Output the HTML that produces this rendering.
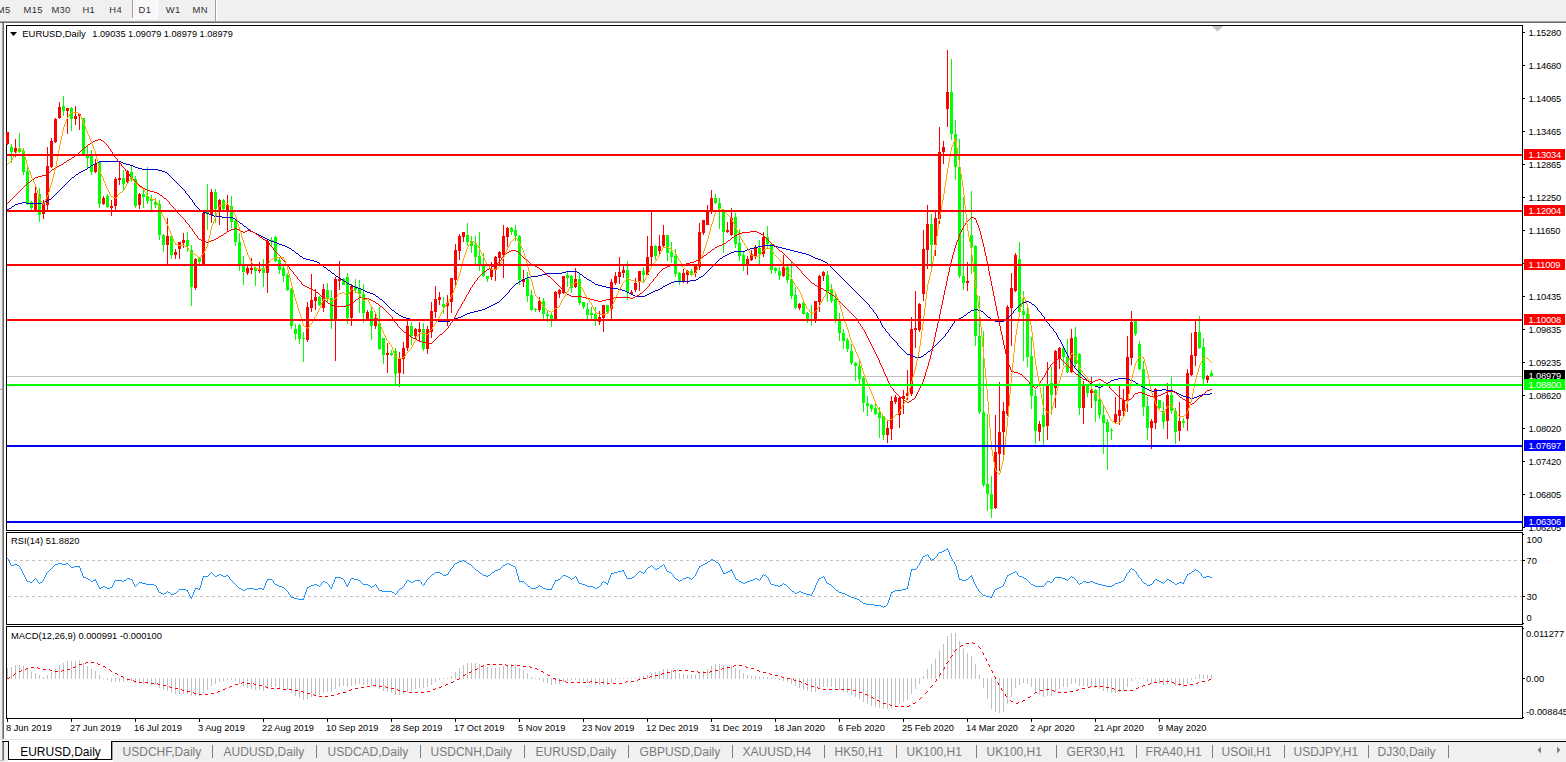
<!DOCTYPE html>
<html><head><meta charset="utf-8"><title>EURUSD,Daily</title>
<style>
html,body{margin:0;padding:0;background:#fff;}
body{width:1566px;height:762px;overflow:hidden;}
svg{display:block;}
svg text{font-family:"Liberation Sans",sans-serif;white-space:pre;}
</style></head><body>
<svg width="1566" height="762" viewBox="0 0 1566 762">
<rect x="0" y="0" width="1566" height="762" fill="#ffffff"/>
<rect x="0" y="0" width="1566" height="21" fill="#f0f0f0" />
<rect x="0" y="21" width="1566" height="1" fill="#a0a0a0" />
<rect x="0" y="22" width="1566" height="1" fill="#696969" />
<rect x="133" y="0" width="24" height="19" fill="#f8f8f8" />
<rect x="132" y="0" width="1" height="19" fill="#a0a0a0" />
<rect x="157" y="0" width="1" height="19" fill="#ffffff" />
<rect x="132" y="18" width="26" height="1" fill="#ffffff" />
<rect x="215" y="0" width="1" height="21" fill="#a0a0a0" />
<rect x="216" y="0" width="1" height="21" fill="#ffffff" />
<text x="-3.2" y="12.8" fill="#303030" font-size="9.4" text-anchor="start" letter-spacing="0.35">M5</text>
<text x="23.6" y="12.8" fill="#303030" font-size="9.4" text-anchor="start" letter-spacing="0.35">M15</text>
<text x="51.4" y="12.8" fill="#303030" font-size="9.4" text-anchor="start" letter-spacing="0.35">M30</text>
<text x="82.4" y="12.8" fill="#303030" font-size="9.4" text-anchor="start" letter-spacing="0.35">H1</text>
<text x="109.3" y="12.8" fill="#303030" font-size="9.4" text-anchor="start" letter-spacing="0.35">H4</text>
<text x="138.6" y="12.8" fill="#303030" font-size="9.4" text-anchor="start" letter-spacing="0.35">D1</text>
<text x="165.8" y="12.8" fill="#303030" font-size="9.4" text-anchor="start" letter-spacing="0.35">W1</text>
<text x="192.6" y="12.8" fill="#303030" font-size="9.4" text-anchor="start" letter-spacing="0.35">MN</text>
<rect x="0" y="23" width="2" height="716" fill="#f0f0f0" />
<rect x="2" y="23" width="1" height="716" fill="#a0a0a0" />
<rect x="3" y="23" width="1" height="716" fill="#696969" />
<rect x="0" y="389" width="2" height="1" fill="#a0a0a0" />
<rect x="0" y="390" width="2" height="1" fill="#fff" />
<rect x="6" y="25" width="1517" height="1" fill="#000" />
<rect x="6" y="530" width="1517" height="1" fill="#000" />
<rect x="6" y="25" width="1" height="506" fill="#000" />
<rect x="1522" y="25" width="1" height="506" fill="#000" />
<rect x="6" y="532" width="1517" height="1" fill="#000" />
<rect x="6" y="624" width="1517" height="1" fill="#000" />
<rect x="6" y="532" width="1" height="93" fill="#000" />
<rect x="1522" y="532" width="1" height="93" fill="#000" />
<rect x="6" y="626" width="1517" height="1" fill="#000" />
<rect x="6" y="718" width="1517" height="1" fill="#000" />
<rect x="6" y="626" width="1" height="93" fill="#000" />
<rect x="1522" y="626" width="1" height="93" fill="#000" />
<g shape-rendering="crispEdges">
<rect x="7" y="376" width="1515" height="1" fill="#c0c0c0" />
<rect x="7" y="132" width="1" height="13" fill="#ff0000" />
<rect x="6" y="132" width="3" height="12" fill="#ff0000" />
<rect x="11" y="144" width="1" height="19" fill="#00ff00" />
<rect x="10" y="147" width="3" height="5" fill="#00ff00" />
<rect x="15" y="139" width="1" height="18" fill="#ff0000" />
<rect x="14" y="148" width="3" height="4" fill="#ff0000" />
<rect x="19" y="133" width="1" height="20" fill="#00ff00" />
<rect x="18" y="148" width="3" height="4" fill="#00ff00" />
<rect x="23" y="148" width="1" height="27" fill="#00ff00" />
<rect x="22" y="151" width="3" height="21" fill="#00ff00" />
<rect x="27" y="167" width="1" height="38" fill="#00ff00" />
<rect x="26" y="171" width="3" height="33" fill="#00ff00" />
<rect x="31" y="201" width="1" height="9" fill="#00ff00" />
<rect x="30" y="202" width="3" height="6" fill="#00ff00" />
<rect x="35" y="187" width="1" height="23" fill="#ff0000" />
<rect x="34" y="193" width="3" height="17" fill="#ff0000" />
<rect x="39" y="188" width="1" height="34" fill="#00ff00" />
<rect x="38" y="194" width="3" height="21" fill="#00ff00" />
<rect x="43" y="200" width="1" height="19" fill="#ff0000" />
<rect x="42" y="202" width="3" height="12" fill="#ff0000" />
<rect x="47" y="147" width="1" height="63" fill="#ff0000" />
<rect x="46" y="166" width="3" height="39" fill="#ff0000" />
<rect x="51" y="138" width="1" height="30" fill="#ff0000" />
<rect x="50" y="141" width="3" height="26" fill="#ff0000" />
<rect x="55" y="118" width="1" height="25" fill="#ff0000" />
<rect x="54" y="119" width="3" height="23" fill="#ff0000" />
<rect x="59" y="102" width="1" height="17" fill="#ff0000" />
<rect x="58" y="107" width="3" height="11" fill="#ff0000" />
<rect x="63" y="96" width="1" height="20" fill="#00ff00" />
<rect x="62" y="106" width="3" height="5" fill="#00ff00" />
<rect x="67" y="108" width="1" height="26" fill="#ff0000" />
<rect x="66" y="108" width="3" height="3" fill="#ff0000" />
<rect x="71" y="107" width="1" height="24" fill="#00ff00" />
<rect x="70" y="108" width="3" height="11" fill="#00ff00" />
<rect x="75" y="106" width="1" height="19" fill="#ff0000" />
<rect x="74" y="116" width="3" height="3" fill="#ff0000" />
<rect x="79" y="113" width="1" height="17" fill="#ff0000" />
<rect x="78" y="114" width="3" height="2" fill="#ff0000" />
<rect x="83" y="118" width="1" height="36" fill="#00ff00" />
<rect x="82" y="118" width="3" height="36" fill="#00ff00" />
<rect x="87" y="146" width="1" height="22" fill="#00ff00" />
<rect x="86" y="154" width="3" height="4" fill="#00ff00" />
<rect x="91" y="150" width="1" height="25" fill="#00ff00" />
<rect x="90" y="154" width="3" height="18" fill="#00ff00" />
<rect x="95" y="159" width="1" height="14" fill="#ff0000" />
<rect x="94" y="164" width="3" height="8" fill="#ff0000" />
<rect x="99" y="162" width="1" height="46" fill="#00ff00" />
<rect x="98" y="162" width="3" height="42" fill="#00ff00" />
<rect x="103" y="196" width="1" height="9" fill="#ff0000" />
<rect x="102" y="198" width="3" height="6" fill="#ff0000" />
<rect x="107" y="194" width="1" height="14" fill="#00ff00" />
<rect x="106" y="196" width="3" height="11" fill="#00ff00" />
<rect x="111" y="200" width="1" height="16" fill="#ff0000" />
<rect x="110" y="206" width="3" height="2" fill="#ff0000" />
<rect x="115" y="177" width="1" height="33" fill="#ff0000" />
<rect x="114" y="179" width="3" height="27" fill="#ff0000" />
<rect x="119" y="162" width="1" height="23" fill="#ff0000" />
<rect x="118" y="178" width="3" height="2" fill="#ff0000" />
<rect x="123" y="170" width="1" height="20" fill="#00ff00" />
<rect x="122" y="178" width="3" height="6" fill="#00ff00" />
<rect x="127" y="170" width="1" height="13" fill="#ff0000" />
<rect x="126" y="171" width="3" height="11" fill="#ff0000" />
<rect x="131" y="166" width="1" height="16" fill="#00ff00" />
<rect x="130" y="172" width="3" height="6" fill="#00ff00" />
<rect x="135" y="176" width="1" height="32" fill="#00ff00" />
<rect x="134" y="179" width="3" height="27" fill="#00ff00" />
<rect x="139" y="193" width="1" height="16" fill="#ff0000" />
<rect x="138" y="194" width="3" height="11" fill="#ff0000" />
<rect x="143" y="190" width="1" height="18" fill="#00ff00" />
<rect x="142" y="194" width="3" height="3" fill="#00ff00" />
<rect x="147" y="167" width="1" height="37" fill="#00ff00" />
<rect x="146" y="196" width="3" height="5" fill="#00ff00" />
<rect x="151" y="195" width="1" height="15" fill="#00ff00" />
<rect x="150" y="199" width="3" height="2" fill="#00ff00" />
<rect x="155" y="198" width="1" height="10" fill="#00ff00" />
<rect x="154" y="202" width="3" height="3" fill="#00ff00" />
<rect x="159" y="200" width="1" height="40" fill="#00ff00" />
<rect x="158" y="204" width="3" height="31" fill="#00ff00" />
<rect x="163" y="234" width="1" height="18" fill="#00ff00" />
<rect x="162" y="235" width="3" height="10" fill="#00ff00" />
<rect x="167" y="218" width="1" height="46" fill="#ff0000" />
<rect x="166" y="236" width="3" height="9" fill="#ff0000" />
<rect x="171" y="236" width="1" height="23" fill="#00ff00" />
<rect x="170" y="236" width="3" height="19" fill="#00ff00" />
<rect x="175" y="249" width="1" height="10" fill="#ff0000" />
<rect x="174" y="252" width="3" height="3" fill="#ff0000" />
<rect x="179" y="242" width="1" height="17" fill="#ff0000" />
<rect x="178" y="242" width="3" height="7" fill="#ff0000" />
<rect x="183" y="233" width="1" height="15" fill="#ff0000" />
<rect x="182" y="240" width="3" height="3" fill="#ff0000" />
<rect x="187" y="232" width="1" height="20" fill="#00ff00" />
<rect x="186" y="240" width="3" height="6" fill="#00ff00" />
<rect x="191" y="245" width="1" height="61" fill="#00ff00" />
<rect x="190" y="250" width="3" height="37" fill="#00ff00" />
<rect x="195" y="258" width="1" height="32" fill="#ff0000" />
<rect x="194" y="259" width="3" height="29" fill="#ff0000" />
<rect x="199" y="257" width="1" height="7" fill="#00ff00" />
<rect x="198" y="258" width="3" height="4" fill="#00ff00" />
<rect x="203" y="212" width="1" height="53" fill="#ff0000" />
<rect x="202" y="213" width="3" height="51" fill="#ff0000" />
<rect x="207" y="184" width="1" height="46" fill="#00ff00" />
<rect x="206" y="212" width="3" height="1" fill="#00ff00" />
<rect x="211" y="189" width="1" height="34" fill="#ff0000" />
<rect x="210" y="192" width="3" height="23" fill="#ff0000" />
<rect x="215" y="189" width="1" height="34" fill="#00ff00" />
<rect x="214" y="192" width="3" height="17" fill="#00ff00" />
<rect x="219" y="199" width="1" height="26" fill="#ff0000" />
<rect x="218" y="200" width="3" height="10" fill="#ff0000" />
<rect x="223" y="199" width="1" height="11" fill="#00ff00" />
<rect x="222" y="200" width="3" height="9" fill="#00ff00" />
<rect x="227" y="195" width="1" height="37" fill="#ff0000" />
<rect x="226" y="205" width="3" height="5" fill="#ff0000" />
<rect x="231" y="196" width="1" height="32" fill="#00ff00" />
<rect x="230" y="206" width="3" height="16" fill="#00ff00" />
<rect x="235" y="220" width="1" height="26" fill="#00ff00" />
<rect x="234" y="221" width="3" height="21" fill="#00ff00" />
<rect x="239" y="233" width="1" height="38" fill="#00ff00" />
<rect x="238" y="242" width="3" height="23" fill="#00ff00" />
<rect x="243" y="256" width="1" height="29" fill="#00ff00" />
<rect x="242" y="264" width="3" height="8" fill="#00ff00" />
<rect x="247" y="265" width="1" height="10" fill="#ff0000" />
<rect x="246" y="268" width="3" height="5" fill="#ff0000" />
<rect x="251" y="258" width="1" height="16" fill="#ff0000" />
<rect x="250" y="268" width="3" height="2" fill="#ff0000" />
<rect x="255" y="267" width="1" height="19" fill="#00ff00" />
<rect x="254" y="268" width="3" height="3" fill="#00ff00" />
<rect x="259" y="262" width="1" height="11" fill="#ff0000" />
<rect x="258" y="269" width="3" height="2" fill="#ff0000" />
<rect x="263" y="259" width="1" height="28" fill="#00ff00" />
<rect x="262" y="268" width="3" height="5" fill="#00ff00" />
<rect x="267" y="240" width="1" height="53" fill="#ff0000" />
<rect x="266" y="241" width="3" height="32" fill="#ff0000" />
<rect x="271" y="237" width="1" height="10" fill="#00ff00" />
<rect x="270" y="240" width="3" height="2" fill="#00ff00" />
<rect x="275" y="236" width="1" height="26" fill="#00ff00" />
<rect x="274" y="237" width="3" height="24" fill="#00ff00" />
<rect x="279" y="257" width="1" height="17" fill="#00ff00" />
<rect x="278" y="260" width="3" height="10" fill="#00ff00" />
<rect x="283" y="266" width="1" height="16" fill="#00ff00" />
<rect x="282" y="268" width="3" height="8" fill="#00ff00" />
<rect x="287" y="273" width="1" height="18" fill="#00ff00" />
<rect x="286" y="275" width="3" height="15" fill="#00ff00" />
<rect x="291" y="288" width="1" height="41" fill="#00ff00" />
<rect x="290" y="289" width="3" height="37" fill="#00ff00" />
<rect x="295" y="324" width="1" height="16" fill="#00ff00" />
<rect x="294" y="329" width="3" height="5" fill="#00ff00" />
<rect x="299" y="324" width="1" height="20" fill="#00ff00" />
<rect x="298" y="325" width="3" height="14" fill="#00ff00" />
<rect x="303" y="332" width="1" height="30" fill="#00ff00" />
<rect x="302" y="338" width="3" height="1" fill="#00ff00" />
<rect x="307" y="302" width="1" height="40" fill="#ff0000" />
<rect x="306" y="307" width="3" height="33" fill="#ff0000" />
<rect x="311" y="274" width="1" height="38" fill="#ff0000" />
<rect x="310" y="300" width="3" height="8" fill="#ff0000" />
<rect x="315" y="289" width="1" height="21" fill="#ff0000" />
<rect x="314" y="297" width="3" height="4" fill="#ff0000" />
<rect x="319" y="296" width="1" height="10" fill="#00ff00" />
<rect x="318" y="297" width="3" height="8" fill="#00ff00" />
<rect x="323" y="284" width="1" height="28" fill="#ff0000" />
<rect x="322" y="289" width="3" height="19" fill="#ff0000" />
<rect x="327" y="283" width="1" height="20" fill="#00ff00" />
<rect x="326" y="290" width="3" height="9" fill="#00ff00" />
<rect x="331" y="290" width="1" height="39" fill="#00ff00" />
<rect x="330" y="298" width="3" height="22" fill="#00ff00" />
<rect x="335" y="277" width="1" height="84" fill="#ff0000" />
<rect x="334" y="279" width="3" height="41" fill="#ff0000" />
<rect x="339" y="261" width="1" height="29" fill="#ff0000" />
<rect x="338" y="279" width="3" height="2" fill="#ff0000" />
<rect x="343" y="278" width="1" height="7" fill="#00ff00" />
<rect x="342" y="279" width="3" height="6" fill="#00ff00" />
<rect x="347" y="273" width="1" height="51" fill="#00ff00" />
<rect x="346" y="277" width="3" height="41" fill="#00ff00" />
<rect x="351" y="284" width="1" height="42" fill="#ff0000" />
<rect x="350" y="286" width="3" height="32" fill="#ff0000" />
<rect x="355" y="279" width="1" height="14" fill="#00ff00" />
<rect x="354" y="286" width="3" height="4" fill="#00ff00" />
<rect x="359" y="280" width="1" height="33" fill="#00ff00" />
<rect x="358" y="288" width="3" height="6" fill="#00ff00" />
<rect x="363" y="284" width="1" height="39" fill="#00ff00" />
<rect x="362" y="294" width="3" height="19" fill="#00ff00" />
<rect x="367" y="310" width="1" height="11" fill="#ff0000" />
<rect x="366" y="312" width="3" height="8" fill="#ff0000" />
<rect x="371" y="307" width="1" height="33" fill="#00ff00" />
<rect x="370" y="311" width="3" height="15" fill="#00ff00" />
<rect x="375" y="312" width="1" height="17" fill="#ff0000" />
<rect x="374" y="318" width="3" height="8" fill="#ff0000" />
<rect x="379" y="307" width="1" height="43" fill="#00ff00" />
<rect x="378" y="323" width="3" height="26" fill="#00ff00" />
<rect x="383" y="338" width="1" height="26" fill="#00ff00" />
<rect x="382" y="338" width="3" height="17" fill="#00ff00" />
<rect x="387" y="343" width="1" height="30" fill="#ff0000" />
<rect x="386" y="353" width="3" height="2" fill="#ff0000" />
<rect x="391" y="350" width="1" height="6" fill="#00ff00" />
<rect x="390" y="353" width="3" height="2" fill="#00ff00" />
<rect x="395" y="348" width="1" height="37" fill="#00ff00" />
<rect x="394" y="351" width="3" height="23" fill="#00ff00" />
<rect x="399" y="352" width="1" height="35" fill="#ff0000" />
<rect x="398" y="358" width="3" height="15" fill="#ff0000" />
<rect x="403" y="342" width="1" height="32" fill="#ff0000" />
<rect x="402" y="348" width="3" height="11" fill="#ff0000" />
<rect x="407" y="320" width="1" height="31" fill="#ff0000" />
<rect x="406" y="326" width="3" height="22" fill="#ff0000" />
<rect x="411" y="322" width="1" height="23" fill="#00ff00" />
<rect x="410" y="326" width="3" height="10" fill="#00ff00" />
<rect x="415" y="328" width="1" height="11" fill="#ff0000" />
<rect x="414" y="329" width="3" height="7" fill="#ff0000" />
<rect x="419" y="322" width="1" height="19" fill="#ff0000" />
<rect x="418" y="329" width="3" height="3" fill="#ff0000" />
<rect x="423" y="323" width="1" height="28" fill="#00ff00" />
<rect x="422" y="329" width="3" height="20" fill="#00ff00" />
<rect x="427" y="326" width="1" height="28" fill="#ff0000" />
<rect x="426" y="329" width="3" height="20" fill="#ff0000" />
<rect x="431" y="302" width="1" height="36" fill="#ff0000" />
<rect x="430" y="311" width="3" height="21" fill="#ff0000" />
<rect x="435" y="286" width="1" height="32" fill="#ff0000" />
<rect x="434" y="299" width="3" height="13" fill="#ff0000" />
<rect x="439" y="292" width="1" height="13" fill="#ff0000" />
<rect x="438" y="297" width="3" height="3" fill="#ff0000" />
<rect x="443" y="297" width="1" height="17" fill="#00ff00" />
<rect x="442" y="304" width="3" height="3" fill="#00ff00" />
<rect x="447" y="295" width="1" height="31" fill="#ff0000" />
<rect x="446" y="303" width="3" height="3" fill="#ff0000" />
<rect x="451" y="278" width="1" height="35" fill="#ff0000" />
<rect x="450" y="278" width="3" height="24" fill="#ff0000" />
<rect x="455" y="244" width="1" height="42" fill="#ff0000" />
<rect x="454" y="250" width="3" height="30" fill="#ff0000" />
<rect x="459" y="234" width="1" height="26" fill="#ff0000" />
<rect x="458" y="236" width="3" height="15" fill="#ff0000" />
<rect x="463" y="232" width="1" height="10" fill="#ff0000" />
<rect x="462" y="232" width="3" height="5" fill="#ff0000" />
<rect x="467" y="223" width="1" height="23" fill="#00ff00" />
<rect x="466" y="235" width="3" height="7" fill="#00ff00" />
<rect x="471" y="236" width="1" height="17" fill="#00ff00" />
<rect x="470" y="241" width="3" height="5" fill="#00ff00" />
<rect x="475" y="236" width="1" height="28" fill="#00ff00" />
<rect x="474" y="245" width="3" height="12" fill="#00ff00" />
<rect x="479" y="232" width="1" height="39" fill="#00ff00" />
<rect x="478" y="256" width="3" height="10" fill="#00ff00" />
<rect x="483" y="253" width="1" height="24" fill="#00ff00" />
<rect x="482" y="266" width="3" height="10" fill="#00ff00" />
<rect x="487" y="276" width="1" height="6" fill="#00ff00" />
<rect x="486" y="276" width="3" height="3" fill="#00ff00" />
<rect x="491" y="262" width="1" height="18" fill="#ff0000" />
<rect x="490" y="269" width="3" height="8" fill="#ff0000" />
<rect x="495" y="256" width="1" height="25" fill="#ff0000" />
<rect x="494" y="257" width="3" height="13" fill="#ff0000" />
<rect x="499" y="251" width="1" height="13" fill="#ff0000" />
<rect x="498" y="252" width="3" height="6" fill="#ff0000" />
<rect x="503" y="225" width="1" height="53" fill="#ff0000" />
<rect x="502" y="236" width="3" height="19" fill="#ff0000" />
<rect x="507" y="227" width="1" height="20" fill="#ff0000" />
<rect x="506" y="228" width="3" height="9" fill="#ff0000" />
<rect x="511" y="227" width="1" height="8" fill="#00ff00" />
<rect x="510" y="228" width="3" height="4" fill="#00ff00" />
<rect x="515" y="225" width="1" height="16" fill="#00ff00" />
<rect x="514" y="230" width="3" height="6" fill="#00ff00" />
<rect x="519" y="235" width="1" height="50" fill="#00ff00" />
<rect x="518" y="236" width="3" height="44" fill="#00ff00" />
<rect x="523" y="270" width="1" height="17" fill="#ff0000" />
<rect x="522" y="279" width="3" height="3" fill="#ff0000" />
<rect x="527" y="272" width="1" height="30" fill="#00ff00" />
<rect x="526" y="279" width="3" height="17" fill="#00ff00" />
<rect x="531" y="290" width="1" height="21" fill="#00ff00" />
<rect x="530" y="295" width="3" height="15" fill="#00ff00" />
<rect x="535" y="308" width="1" height="4" fill="#00ff00" />
<rect x="534" y="309" width="3" height="1" fill="#00ff00" />
<rect x="539" y="297" width="1" height="15" fill="#ff0000" />
<rect x="538" y="301" width="3" height="9" fill="#ff0000" />
<rect x="543" y="298" width="1" height="22" fill="#00ff00" />
<rect x="542" y="301" width="3" height="13" fill="#00ff00" />
<rect x="547" y="310" width="1" height="12" fill="#00ff00" />
<rect x="546" y="314" width="3" height="2" fill="#00ff00" />
<rect x="551" y="312" width="1" height="15" fill="#00ff00" />
<rect x="550" y="315" width="3" height="5" fill="#00ff00" />
<rect x="555" y="291" width="1" height="29" fill="#ff0000" />
<rect x="554" y="292" width="3" height="28" fill="#ff0000" />
<rect x="559" y="289" width="1" height="9" fill="#ff0000" />
<rect x="558" y="290" width="3" height="4" fill="#ff0000" />
<rect x="563" y="276" width="1" height="18" fill="#ff0000" />
<rect x="562" y="276" width="3" height="17" fill="#ff0000" />
<rect x="567" y="272" width="1" height="15" fill="#00ff00" />
<rect x="566" y="275" width="3" height="3" fill="#00ff00" />
<rect x="571" y="275" width="1" height="18" fill="#00ff00" />
<rect x="570" y="276" width="3" height="12" fill="#00ff00" />
<rect x="575" y="268" width="1" height="20" fill="#ff0000" />
<rect x="574" y="279" width="3" height="8" fill="#ff0000" />
<rect x="579" y="274" width="1" height="31" fill="#00ff00" />
<rect x="578" y="279" width="3" height="24" fill="#00ff00" />
<rect x="583" y="302" width="1" height="7" fill="#00ff00" />
<rect x="582" y="302" width="3" height="5" fill="#00ff00" />
<rect x="587" y="303" width="1" height="16" fill="#00ff00" />
<rect x="586" y="309" width="3" height="6" fill="#00ff00" />
<rect x="591" y="307" width="1" height="12" fill="#00ff00" />
<rect x="590" y="313" width="3" height="2" fill="#00ff00" />
<rect x="595" y="307" width="1" height="19" fill="#00ff00" />
<rect x="594" y="314" width="3" height="7" fill="#00ff00" />
<rect x="599" y="311" width="1" height="14" fill="#ff0000" />
<rect x="598" y="317" width="3" height="5" fill="#ff0000" />
<rect x="603" y="305" width="1" height="27" fill="#ff0000" />
<rect x="602" y="305" width="3" height="13" fill="#ff0000" />
<rect x="607" y="305" width="1" height="9" fill="#00ff00" />
<rect x="606" y="305" width="3" height="7" fill="#00ff00" />
<rect x="611" y="279" width="1" height="40" fill="#ff0000" />
<rect x="610" y="282" width="3" height="27" fill="#ff0000" />
<rect x="615" y="272" width="1" height="13" fill="#ff0000" />
<rect x="614" y="276" width="3" height="7" fill="#ff0000" />
<rect x="619" y="257" width="1" height="27" fill="#ff0000" />
<rect x="618" y="272" width="3" height="5" fill="#ff0000" />
<rect x="623" y="266" width="1" height="12" fill="#ff0000" />
<rect x="622" y="270" width="3" height="3" fill="#ff0000" />
<rect x="627" y="261" width="1" height="39" fill="#00ff00" />
<rect x="626" y="270" width="3" height="22" fill="#00ff00" />
<rect x="631" y="290" width="1" height="5" fill="#ff0000" />
<rect x="630" y="292" width="3" height="2" fill="#ff0000" />
<rect x="635" y="278" width="1" height="14" fill="#ff0000" />
<rect x="634" y="283" width="3" height="7" fill="#ff0000" />
<rect x="639" y="271" width="1" height="20" fill="#ff0000" />
<rect x="638" y="271" width="3" height="11" fill="#ff0000" />
<rect x="643" y="267" width="1" height="16" fill="#00ff00" />
<rect x="642" y="271" width="3" height="4" fill="#00ff00" />
<rect x="647" y="236" width="1" height="39" fill="#ff0000" />
<rect x="646" y="257" width="3" height="18" fill="#ff0000" />
<rect x="651" y="212" width="1" height="54" fill="#ff0000" />
<rect x="650" y="246" width="3" height="11" fill="#ff0000" />
<rect x="655" y="245" width="1" height="15" fill="#00ff00" />
<rect x="654" y="246" width="3" height="10" fill="#00ff00" />
<rect x="659" y="235" width="1" height="19" fill="#ff0000" />
<rect x="658" y="246" width="3" height="5" fill="#ff0000" />
<rect x="663" y="225" width="1" height="23" fill="#ff0000" />
<rect x="662" y="235" width="3" height="11" fill="#ff0000" />
<rect x="667" y="235" width="1" height="26" fill="#00ff00" />
<rect x="666" y="235" width="3" height="18" fill="#00ff00" />
<rect x="671" y="242" width="1" height="21" fill="#00ff00" />
<rect x="670" y="252" width="3" height="5" fill="#00ff00" />
<rect x="675" y="249" width="1" height="28" fill="#00ff00" />
<rect x="674" y="256" width="3" height="18" fill="#00ff00" />
<rect x="679" y="272" width="1" height="13" fill="#00ff00" />
<rect x="678" y="273" width="3" height="9" fill="#00ff00" />
<rect x="683" y="269" width="1" height="14" fill="#ff0000" />
<rect x="682" y="273" width="3" height="8" fill="#ff0000" />
<rect x="687" y="270" width="1" height="14" fill="#ff0000" />
<rect x="686" y="271" width="3" height="4" fill="#ff0000" />
<rect x="691" y="269" width="1" height="7" fill="#00ff00" />
<rect x="690" y="271" width="3" height="4" fill="#00ff00" />
<rect x="695" y="265" width="1" height="12" fill="#ff0000" />
<rect x="694" y="265" width="3" height="8" fill="#ff0000" />
<rect x="699" y="223" width="1" height="47" fill="#ff0000" />
<rect x="698" y="232" width="3" height="35" fill="#ff0000" />
<rect x="703" y="220" width="1" height="15" fill="#ff0000" />
<rect x="702" y="220" width="3" height="13" fill="#ff0000" />
<rect x="707" y="205" width="1" height="20" fill="#ff0000" />
<rect x="706" y="212" width="3" height="13" fill="#ff0000" />
<rect x="711" y="190" width="1" height="24" fill="#ff0000" />
<rect x="710" y="198" width="3" height="13" fill="#ff0000" />
<rect x="715" y="194" width="1" height="10" fill="#00ff00" />
<rect x="714" y="198" width="3" height="5" fill="#00ff00" />
<rect x="719" y="198" width="1" height="31" fill="#00ff00" />
<rect x="718" y="203" width="3" height="6" fill="#00ff00" />
<rect x="723" y="209" width="1" height="44" fill="#00ff00" />
<rect x="722" y="212" width="3" height="20" fill="#00ff00" />
<rect x="727" y="222" width="1" height="11" fill="#ff0000" />
<rect x="726" y="230" width="3" height="2" fill="#ff0000" />
<rect x="731" y="208" width="1" height="28" fill="#ff0000" />
<rect x="730" y="218" width="3" height="17" fill="#ff0000" />
<rect x="735" y="213" width="1" height="35" fill="#00ff00" />
<rect x="734" y="217" width="3" height="27" fill="#00ff00" />
<rect x="739" y="229" width="1" height="32" fill="#00ff00" />
<rect x="738" y="243" width="3" height="13" fill="#00ff00" />
<rect x="743" y="252" width="1" height="19" fill="#00ff00" />
<rect x="742" y="255" width="3" height="9" fill="#00ff00" />
<rect x="747" y="256" width="1" height="19" fill="#ff0000" />
<rect x="746" y="259" width="3" height="6" fill="#ff0000" />
<rect x="751" y="250" width="1" height="11" fill="#ff0000" />
<rect x="750" y="254" width="3" height="6" fill="#ff0000" />
<rect x="755" y="245" width="1" height="14" fill="#ff0000" />
<rect x="754" y="248" width="3" height="9" fill="#ff0000" />
<rect x="759" y="240" width="1" height="24" fill="#00ff00" />
<rect x="758" y="248" width="3" height="6" fill="#00ff00" />
<rect x="763" y="232" width="1" height="25" fill="#ff0000" />
<rect x="762" y="237" width="3" height="17" fill="#ff0000" />
<rect x="767" y="226" width="1" height="23" fill="#00ff00" />
<rect x="766" y="237" width="3" height="7" fill="#00ff00" />
<rect x="771" y="244" width="1" height="30" fill="#00ff00" />
<rect x="770" y="244" width="3" height="26" fill="#00ff00" />
<rect x="775" y="267" width="1" height="6" fill="#00ff00" />
<rect x="774" y="268" width="3" height="3" fill="#00ff00" />
<rect x="779" y="267" width="1" height="13" fill="#00ff00" />
<rect x="778" y="271" width="3" height="5" fill="#00ff00" />
<rect x="783" y="255" width="1" height="22" fill="#ff0000" />
<rect x="782" y="267" width="3" height="9" fill="#ff0000" />
<rect x="787" y="266" width="1" height="17" fill="#00ff00" />
<rect x="786" y="267" width="3" height="13" fill="#00ff00" />
<rect x="791" y="262" width="1" height="37" fill="#00ff00" />
<rect x="790" y="279" width="3" height="17" fill="#00ff00" />
<rect x="795" y="287" width="1" height="22" fill="#00ff00" />
<rect x="794" y="295" width="3" height="13" fill="#00ff00" />
<rect x="799" y="303" width="1" height="7" fill="#ff0000" />
<rect x="798" y="304" width="3" height="4" fill="#ff0000" />
<rect x="803" y="302" width="1" height="13" fill="#00ff00" />
<rect x="802" y="303" width="3" height="11" fill="#00ff00" />
<rect x="807" y="312" width="1" height="11" fill="#00ff00" />
<rect x="806" y="313" width="3" height="6" fill="#00ff00" />
<rect x="811" y="305" width="1" height="21" fill="#00ff00" />
<rect x="810" y="319" width="3" height="2" fill="#00ff00" />
<rect x="815" y="301" width="1" height="22" fill="#ff0000" />
<rect x="814" y="301" width="3" height="19" fill="#ff0000" />
<rect x="819" y="275" width="1" height="37" fill="#ff0000" />
<rect x="818" y="276" width="3" height="26" fill="#ff0000" />
<rect x="823" y="271" width="1" height="10" fill="#ff0000" />
<rect x="822" y="272" width="3" height="4" fill="#ff0000" />
<rect x="827" y="271" width="1" height="31" fill="#00ff00" />
<rect x="826" y="275" width="3" height="18" fill="#00ff00" />
<rect x="831" y="284" width="1" height="19" fill="#00ff00" />
<rect x="830" y="289" width="3" height="12" fill="#00ff00" />
<rect x="835" y="294" width="1" height="29" fill="#00ff00" />
<rect x="834" y="299" width="3" height="21" fill="#00ff00" />
<rect x="839" y="313" width="1" height="28" fill="#00ff00" />
<rect x="838" y="320" width="3" height="13" fill="#00ff00" />
<rect x="843" y="329" width="1" height="20" fill="#00ff00" />
<rect x="842" y="333" width="3" height="8" fill="#00ff00" />
<rect x="847" y="338" width="1" height="14" fill="#00ff00" />
<rect x="846" y="340" width="3" height="9" fill="#00ff00" />
<rect x="851" y="344" width="1" height="21" fill="#00ff00" />
<rect x="850" y="351" width="3" height="12" fill="#00ff00" />
<rect x="855" y="362" width="1" height="19" fill="#00ff00" />
<rect x="854" y="363" width="3" height="3" fill="#00ff00" />
<rect x="859" y="361" width="1" height="23" fill="#00ff00" />
<rect x="858" y="366" width="3" height="13" fill="#00ff00" />
<rect x="863" y="376" width="1" height="36" fill="#00ff00" />
<rect x="862" y="378" width="3" height="25" fill="#00ff00" />
<rect x="867" y="396" width="1" height="20" fill="#00ff00" />
<rect x="866" y="403" width="3" height="3" fill="#00ff00" />
<rect x="871" y="404" width="1" height="8" fill="#00ff00" />
<rect x="870" y="405" width="3" height="4" fill="#00ff00" />
<rect x="875" y="402" width="1" height="13" fill="#00ff00" />
<rect x="874" y="408" width="3" height="6" fill="#00ff00" />
<rect x="879" y="407" width="1" height="31" fill="#00ff00" />
<rect x="878" y="413" width="3" height="5" fill="#00ff00" />
<rect x="883" y="416" width="1" height="24" fill="#00ff00" />
<rect x="882" y="416" width="3" height="19" fill="#00ff00" />
<rect x="887" y="420" width="1" height="23" fill="#ff0000" />
<rect x="886" y="428" width="3" height="7" fill="#ff0000" />
<rect x="891" y="396" width="1" height="44" fill="#ff0000" />
<rect x="890" y="401" width="3" height="28" fill="#ff0000" />
<rect x="895" y="395" width="1" height="9" fill="#ff0000" />
<rect x="894" y="397" width="3" height="5" fill="#ff0000" />
<rect x="899" y="396" width="1" height="32" fill="#ff0000" />
<rect x="898" y="398" width="3" height="17" fill="#ff0000" />
<rect x="903" y="390" width="1" height="24" fill="#ff0000" />
<rect x="902" y="396" width="3" height="3" fill="#ff0000" />
<rect x="907" y="370" width="1" height="30" fill="#ff0000" />
<rect x="906" y="393" width="3" height="3" fill="#ff0000" />
<rect x="911" y="317" width="1" height="79" fill="#ff0000" />
<rect x="910" y="329" width="3" height="65" fill="#ff0000" />
<rect x="915" y="291" width="1" height="57" fill="#ff0000" />
<rect x="914" y="328" width="3" height="2" fill="#ff0000" />
<rect x="919" y="303" width="1" height="29" fill="#ff0000" />
<rect x="918" y="304" width="3" height="26" fill="#ff0000" />
<rect x="923" y="230" width="1" height="71" fill="#ff0000" />
<rect x="922" y="249" width="3" height="45" fill="#ff0000" />
<rect x="927" y="205" width="1" height="64" fill="#ff0000" />
<rect x="926" y="224" width="3" height="26" fill="#ff0000" />
<rect x="931" y="214" width="1" height="53" fill="#00ff00" />
<rect x="930" y="224" width="3" height="21" fill="#00ff00" />
<rect x="935" y="211" width="1" height="45" fill="#ff0000" />
<rect x="934" y="218" width="3" height="27" fill="#ff0000" />
<rect x="939" y="127" width="1" height="97" fill="#ff0000" />
<rect x="938" y="152" width="3" height="67" fill="#ff0000" />
<rect x="943" y="141" width="1" height="23" fill="#ff0000" />
<rect x="942" y="147" width="3" height="5" fill="#ff0000" />
<rect x="947" y="50" width="1" height="77" fill="#ff0000" />
<rect x="946" y="92" width="3" height="17" fill="#ff0000" />
<rect x="951" y="59" width="1" height="81" fill="#00ff00" />
<rect x="950" y="92" width="3" height="42" fill="#00ff00" />
<rect x="955" y="120" width="1" height="60" fill="#00ff00" />
<rect x="954" y="134" width="3" height="33" fill="#00ff00" />
<rect x="959" y="139" width="1" height="139" fill="#00ff00" />
<rect x="958" y="167" width="3" height="109" fill="#00ff00" />
<rect x="963" y="197" width="1" height="93" fill="#00ff00" />
<rect x="962" y="276" width="3" height="7" fill="#00ff00" />
<rect x="967" y="262" width="1" height="29" fill="#ff0000" />
<rect x="966" y="281" width="3" height="2" fill="#ff0000" />
<rect x="971" y="191" width="1" height="83" fill="#00ff00" />
<rect x="970" y="235" width="3" height="12" fill="#00ff00" />
<rect x="975" y="245" width="1" height="101" fill="#00ff00" />
<rect x="974" y="246" width="3" height="90" fill="#00ff00" />
<rect x="979" y="296" width="1" height="118" fill="#00ff00" />
<rect x="978" y="336" width="3" height="76" fill="#00ff00" />
<rect x="983" y="331" width="1" height="156" fill="#00ff00" />
<rect x="982" y="412" width="3" height="73" fill="#00ff00" />
<rect x="987" y="414" width="1" height="97" fill="#00ff00" />
<rect x="986" y="484" width="3" height="10" fill="#00ff00" />
<rect x="991" y="476" width="1" height="42" fill="#00ff00" />
<rect x="990" y="494" width="3" height="15" fill="#00ff00" />
<rect x="995" y="415" width="1" height="94" fill="#ff0000" />
<rect x="994" y="452" width="3" height="56" fill="#ff0000" />
<rect x="999" y="382" width="1" height="89" fill="#ff0000" />
<rect x="998" y="432" width="3" height="22" fill="#ff0000" />
<rect x="1003" y="402" width="1" height="54" fill="#ff0000" />
<rect x="1002" y="411" width="3" height="21" fill="#ff0000" />
<rect x="1007" y="305" width="1" height="111" fill="#ff0000" />
<rect x="1006" y="307" width="3" height="107" fill="#ff0000" />
<rect x="1011" y="273" width="1" height="73" fill="#ff0000" />
<rect x="1010" y="288" width="3" height="20" fill="#ff0000" />
<rect x="1015" y="253" width="1" height="39" fill="#ff0000" />
<rect x="1014" y="255" width="3" height="36" fill="#ff0000" />
<rect x="1019" y="242" width="1" height="72" fill="#00ff00" />
<rect x="1018" y="259" width="3" height="53" fill="#00ff00" />
<rect x="1023" y="291" width="1" height="70" fill="#00ff00" />
<rect x="1022" y="311" width="3" height="4" fill="#00ff00" />
<rect x="1027" y="305" width="1" height="62" fill="#00ff00" />
<rect x="1026" y="314" width="3" height="43" fill="#00ff00" />
<rect x="1031" y="337" width="1" height="72" fill="#00ff00" />
<rect x="1030" y="356" width="3" height="40" fill="#00ff00" />
<rect x="1035" y="390" width="1" height="54" fill="#00ff00" />
<rect x="1034" y="396" width="3" height="35" fill="#00ff00" />
<rect x="1039" y="421" width="1" height="20" fill="#ff0000" />
<rect x="1038" y="424" width="3" height="8" fill="#ff0000" />
<rect x="1043" y="386" width="1" height="61" fill="#00ff00" />
<rect x="1042" y="415" width="3" height="12" fill="#00ff00" />
<rect x="1047" y="362" width="1" height="78" fill="#ff0000" />
<rect x="1046" y="385" width="3" height="41" fill="#ff0000" />
<rect x="1051" y="367" width="1" height="48" fill="#00ff00" />
<rect x="1050" y="383" width="3" height="12" fill="#00ff00" />
<rect x="1055" y="350" width="1" height="58" fill="#ff0000" />
<rect x="1054" y="351" width="3" height="37" fill="#ff0000" />
<rect x="1059" y="347" width="1" height="22" fill="#ff0000" />
<rect x="1058" y="348" width="3" height="11" fill="#ff0000" />
<rect x="1063" y="346" width="1" height="20" fill="#00ff00" />
<rect x="1062" y="348" width="3" height="9" fill="#00ff00" />
<rect x="1067" y="339" width="1" height="34" fill="#00ff00" />
<rect x="1066" y="357" width="3" height="15" fill="#00ff00" />
<rect x="1071" y="329" width="1" height="44" fill="#ff0000" />
<rect x="1070" y="338" width="3" height="34" fill="#ff0000" />
<rect x="1075" y="327" width="1" height="40" fill="#00ff00" />
<rect x="1074" y="337" width="3" height="27" fill="#00ff00" />
<rect x="1079" y="353" width="1" height="62" fill="#00ff00" />
<rect x="1078" y="354" width="3" height="54" fill="#00ff00" />
<rect x="1083" y="381" width="1" height="43" fill="#ff0000" />
<rect x="1082" y="385" width="3" height="23" fill="#ff0000" />
<rect x="1087" y="385" width="1" height="12" fill="#00ff00" />
<rect x="1086" y="386" width="3" height="7" fill="#00ff00" />
<rect x="1091" y="377" width="1" height="31" fill="#ff0000" />
<rect x="1090" y="390" width="3" height="3" fill="#ff0000" />
<rect x="1095" y="389" width="1" height="33" fill="#00ff00" />
<rect x="1094" y="390" width="3" height="11" fill="#00ff00" />
<rect x="1099" y="383" width="1" height="36" fill="#00ff00" />
<rect x="1098" y="400" width="3" height="15" fill="#00ff00" />
<rect x="1103" y="405" width="1" height="49" fill="#00ff00" />
<rect x="1102" y="415" width="3" height="8" fill="#00ff00" />
<rect x="1107" y="419" width="1" height="51" fill="#00ff00" />
<rect x="1106" y="422" width="3" height="10" fill="#00ff00" />
<rect x="1111" y="428" width="1" height="12" fill="#00ff00" />
<rect x="1110" y="430" width="3" height="1" fill="#00ff00" />
<rect x="1115" y="397" width="1" height="26" fill="#ff0000" />
<rect x="1114" y="414" width="3" height="8" fill="#ff0000" />
<rect x="1119" y="386" width="1" height="39" fill="#ff0000" />
<rect x="1118" y="410" width="3" height="6" fill="#ff0000" />
<rect x="1123" y="389" width="1" height="29" fill="#ff0000" />
<rect x="1122" y="400" width="3" height="11" fill="#ff0000" />
<rect x="1127" y="336" width="1" height="76" fill="#ff0000" />
<rect x="1126" y="357" width="3" height="44" fill="#ff0000" />
<rect x="1131" y="311" width="1" height="54" fill="#ff0000" />
<rect x="1130" y="322" width="3" height="36" fill="#ff0000" />
<rect x="1135" y="321" width="1" height="15" fill="#00ff00" />
<rect x="1134" y="321" width="3" height="13" fill="#00ff00" />
<rect x="1139" y="341" width="1" height="29" fill="#00ff00" />
<rect x="1138" y="344" width="3" height="25" fill="#00ff00" />
<rect x="1143" y="361" width="1" height="55" fill="#00ff00" />
<rect x="1142" y="369" width="3" height="38" fill="#00ff00" />
<rect x="1147" y="397" width="1" height="43" fill="#00ff00" />
<rect x="1146" y="406" width="3" height="22" fill="#00ff00" />
<rect x="1151" y="419" width="1" height="30" fill="#ff0000" />
<rect x="1150" y="421" width="3" height="7" fill="#ff0000" />
<rect x="1155" y="388" width="1" height="41" fill="#ff0000" />
<rect x="1154" y="389" width="3" height="34" fill="#ff0000" />
<rect x="1159" y="400" width="1" height="9" fill="#00ff00" />
<rect x="1158" y="400" width="3" height="8" fill="#00ff00" />
<rect x="1163" y="402" width="1" height="27" fill="#00ff00" />
<rect x="1162" y="411" width="3" height="11" fill="#00ff00" />
<rect x="1167" y="383" width="1" height="56" fill="#ff0000" />
<rect x="1166" y="395" width="3" height="26" fill="#ff0000" />
<rect x="1171" y="377" width="1" height="37" fill="#00ff00" />
<rect x="1170" y="395" width="3" height="16" fill="#00ff00" />
<rect x="1175" y="408" width="1" height="36" fill="#00ff00" />
<rect x="1174" y="411" width="3" height="21" fill="#00ff00" />
<rect x="1179" y="402" width="1" height="39" fill="#ff0000" />
<rect x="1178" y="421" width="3" height="10" fill="#ff0000" />
<rect x="1183" y="418" width="1" height="10" fill="#00ff00" />
<rect x="1182" y="421" width="3" height="2" fill="#00ff00" />
<rect x="1187" y="369" width="1" height="62" fill="#ff0000" />
<rect x="1186" y="373" width="3" height="46" fill="#ff0000" />
<rect x="1191" y="333" width="1" height="43" fill="#ff0000" />
<rect x="1190" y="355" width="3" height="20" fill="#ff0000" />
<rect x="1195" y="321" width="1" height="45" fill="#ff0000" />
<rect x="1194" y="332" width="3" height="24" fill="#ff0000" />
<rect x="1199" y="316" width="1" height="33" fill="#00ff00" />
<rect x="1198" y="332" width="3" height="16" fill="#00ff00" />
<rect x="1203" y="338" width="1" height="47" fill="#00ff00" />
<rect x="1202" y="347" width="3" height="32" fill="#00ff00" />
<rect x="1207" y="375" width="1" height="8" fill="#ff0000" />
<rect x="1206" y="376" width="3" height="4" fill="#ff0000" />
<rect x="1211" y="370" width="1" height="7" fill="#00ff00" />
<rect x="1210" y="373" width="3" height="3" fill="#00ff00" />
</g>
<path d="M185.5,191v2M189.5,196v2M192.5,200v2M194.5,203v2M509.5,290v2M869.5,305v2M873.5,310v2M876.5,314v2M877.5,316v2M878.5,318v2M880.5,321v2M881.5,323v2M882.5,325v2M885.5,329v2M889.5,334v2M897.5,343v2M945.5,334v2M948.5,330v2M950.5,327v2M952.5,324v2M954.5,321v2M1013.5,311v2M1037.5,308v2M1041.5,313v2M1044.5,317v2M1046.5,320v2M1049.5,324v2M1053.5,329v2M1056.5,333v2M1057.5,335v2M1058.5,337v2M1060.5,340v2M1061.5,342v2M1062.5,344v2M1063.5,346v2M1064.5,348v2M1065.5,350v2M1066.5,352v2M1067.5,354v2M1068.5,356v2M1069.5,358v2M1070.5,360v2M1072.5,363v2M1074.5,366v2M99,161.5h22M97,162.5h2M121,162.5h2M95,163.5h2M123,163.5h3M93,164.5h2M126,164.5h4M91,165.5h2M130,165.5h3M90,166.5h1M133,166.5h2M88,167.5h2M135,167.5h3M87,168.5h1M138,168.5h4M85,169.5h2M142,169.5h16M83,170.5h2M158,170.5h4M81,171.5h2M162,171.5h3M79,172.5h2M165,172.5h2M78,173.5h1M167,173.5h1M76,174.5h2M168,174.5h1M75,175.5h1M169,175.5h1M74,176.5h1M170,176.5h1M72,177.5h2M171,177.5h1M71,178.5h1M172,178.5h1M70,179.5h1M173,179.5h1M69,180.5h1M174,180.5h1M68,181.5h1M175,181.5h1M67,182.5h1M176,182.5h1M66,183.5h1M177,183.5h1M65,184.5h1M178,184.5h1M64,185.5h1M179,185.5h1M63,186.5h1M180,186.5h1M62,187.5h1M181,187.5h1M61,188.5h1M182,188.5h1M60,189.5h1M183,189.5h1M59,190.5h1M184,190.5h1M58,191.5h1M57,192.5h1M56,193.5h1M186,193.5h1M55,194.5h1M187,194.5h1M54,195.5h1M188,195.5h1M53,196.5h1M52,197.5h1M51,198.5h1M190,198.5h1M49,199.5h2M191,199.5h1M47,200.5h2M45,201.5h2M22,202.5h4M42,202.5h3M193,202.5h1M18,203.5h4M26,203.5h16M15,204.5h3M14,205.5h1M195,205.5h1M12,206.5h2M196,206.5h1M11,207.5h1M197,207.5h1M9,208.5h2M198,208.5h1M7,209.5h2M199,209.5h1M200,210.5h2M202,211.5h1M203,212.5h3M206,213.5h3M209,214.5h2M211,215.5h3M214,216.5h8M222,217.5h11M233,218.5h2M235,219.5h1M236,220.5h2M238,221.5h1M239,222.5h1M240,223.5h2M242,224.5h1M243,225.5h1M244,226.5h2M246,227.5h1M247,228.5h1M248,229.5h2M250,230.5h1M251,231.5h2M253,232.5h2M255,233.5h2M257,234.5h2M259,235.5h2M261,236.5h2M263,237.5h2M265,238.5h2M267,239.5h2M269,240.5h2M271,241.5h3M274,242.5h3M277,243.5h2M279,244.5h3M282,245.5h3M762,245.5h12M285,246.5h2M758,246.5h4M774,246.5h4M287,247.5h2M754,247.5h4M778,247.5h4M289,248.5h2M750,248.5h4M782,248.5h4M291,249.5h1M747,249.5h3M786,249.5h4M292,250.5h2M745,250.5h2M790,250.5h4M294,251.5h1M734,251.5h11M794,251.5h4M295,252.5h1M731,252.5h3M798,252.5h4M296,253.5h2M729,253.5h2M802,253.5h4M298,254.5h1M727,254.5h2M806,254.5h3M299,255.5h1M725,255.5h2M809,255.5h2M300,256.5h2M723,256.5h2M811,256.5h2M302,257.5h1M722,257.5h1M813,257.5h2M303,258.5h3M720,258.5h2M815,258.5h3M306,259.5h4M719,259.5h1M818,259.5h3M310,260.5h4M718,260.5h1M821,260.5h2M314,261.5h3M717,261.5h1M823,261.5h2M317,262.5h2M716,262.5h1M825,262.5h2M319,263.5h1M715,263.5h1M827,263.5h1M320,264.5h2M714,264.5h1M828,264.5h1M322,265.5h1M713,265.5h1M829,265.5h1M323,266.5h1M712,266.5h1M830,266.5h1M324,267.5h2M711,267.5h1M831,267.5h1M326,268.5h1M710,268.5h1M832,268.5h1M327,269.5h1M709,269.5h1M833,269.5h1M328,270.5h2M708,270.5h1M834,270.5h1M330,271.5h1M566,271.5h11M707,271.5h1M835,271.5h1M331,272.5h1M562,272.5h4M577,272.5h2M706,272.5h1M836,272.5h1M332,273.5h2M546,273.5h16M579,273.5h1M705,273.5h1M837,273.5h1M334,274.5h1M542,274.5h4M580,274.5h2M704,274.5h1M838,274.5h1M335,275.5h1M538,275.5h4M582,275.5h1M703,275.5h1M839,275.5h1M336,276.5h2M530,276.5h8M583,276.5h1M701,276.5h2M840,276.5h1M338,277.5h1M527,277.5h3M584,277.5h2M699,277.5h2M841,277.5h1M339,278.5h2M525,278.5h2M586,278.5h1M698,278.5h1M842,278.5h1M341,279.5h2M523,279.5h2M587,279.5h2M696,279.5h2M843,279.5h1M343,280.5h1M521,280.5h2M589,280.5h2M690,280.5h6M844,280.5h1M344,281.5h2M519,281.5h2M591,281.5h1M674,281.5h16M845,281.5h1M346,282.5h1M518,282.5h1M592,282.5h2M671,282.5h3M846,282.5h1M347,283.5h2M516,283.5h2M594,283.5h1M669,283.5h2M847,283.5h1M349,284.5h2M515,284.5h1M595,284.5h3M667,284.5h2M848,284.5h1M351,285.5h2M514,285.5h1M598,285.5h4M665,285.5h2M849,285.5h1M353,286.5h2M513,286.5h1M602,286.5h4M663,286.5h2M850,286.5h1M355,287.5h3M512,287.5h1M606,287.5h4M662,287.5h1M851,287.5h1M358,288.5h3M511,288.5h1M610,288.5h8M660,288.5h2M852,288.5h1M361,289.5h2M510,289.5h1M618,289.5h4M658,289.5h2M853,289.5h1M363,290.5h2M622,290.5h3M655,290.5h3M854,290.5h1M365,291.5h2M625,291.5h2M653,291.5h2M855,291.5h1M367,292.5h3M508,292.5h1M627,292.5h2M651,292.5h2M856,292.5h1M370,293.5h3M507,293.5h1M629,293.5h2M649,293.5h2M857,293.5h1M373,294.5h2M506,294.5h1M631,294.5h2M647,294.5h2M858,294.5h1M375,295.5h1M505,295.5h1M633,295.5h2M645,295.5h2M859,295.5h1M376,296.5h2M504,296.5h1M635,296.5h10M860,296.5h1M378,297.5h1M503,297.5h1M861,297.5h1M379,298.5h1M502,298.5h1M862,298.5h1M380,299.5h2M501,299.5h1M863,299.5h1M382,300.5h1M500,300.5h1M864,300.5h1M383,301.5h1M499,301.5h1M865,301.5h1M1026,301.5h3M384,302.5h1M497,302.5h2M866,302.5h1M1023,302.5h3M1029,302.5h2M385,303.5h1M495,303.5h2M867,303.5h1M1022,303.5h1M1031,303.5h1M386,304.5h1M493,304.5h2M868,304.5h1M1020,304.5h2M1032,304.5h2M387,305.5h1M491,305.5h2M1019,305.5h1M1034,305.5h1M388,306.5h1M489,306.5h2M1018,306.5h1M1035,306.5h1M389,307.5h1M487,307.5h2M870,307.5h1M1017,307.5h1M1036,307.5h1M390,308.5h1M485,308.5h2M871,308.5h1M1016,308.5h1M391,309.5h1M482,309.5h3M872,309.5h1M974,309.5h4M1015,309.5h1M392,310.5h2M478,310.5h4M971,310.5h3M978,310.5h3M1014,310.5h1M1038,310.5h1M394,311.5h1M474,311.5h4M970,311.5h1M981,311.5h2M1039,311.5h1M395,312.5h1M470,312.5h4M874,312.5h1M968,312.5h2M983,312.5h1M1040,312.5h1M396,313.5h2M467,313.5h3M875,313.5h1M967,313.5h1M984,313.5h1M1012,313.5h1M398,314.5h1M465,314.5h2M966,314.5h1M985,314.5h1M1011,314.5h1M399,315.5h2M463,315.5h2M964,315.5h2M986,315.5h1M1010,315.5h1M1042,315.5h1M401,316.5h2M461,316.5h2M963,316.5h1M987,316.5h1M1009,316.5h1M1043,316.5h1M403,317.5h3M458,317.5h3M961,317.5h2M988,317.5h2M1008,317.5h1M406,318.5h4M455,318.5h3M959,318.5h2M990,318.5h1M1007,318.5h1M410,319.5h12M453,319.5h2M957,319.5h2M991,319.5h2M1006,319.5h1M1045,319.5h1M422,320.5h16M450,320.5h3M879,320.5h1M955,320.5h2M993,320.5h2M1004,320.5h2M438,321.5h12M995,321.5h9M1047,322.5h1M953,323.5h1M1048,323.5h1M951,326.5h1M1050,326.5h1M883,327.5h1M1051,327.5h1M884,328.5h1M1052,328.5h1M949,329.5h1M886,331.5h1M1054,331.5h1M887,332.5h1M947,332.5h1M1055,332.5h1M888,333.5h1M946,333.5h1M890,336.5h1M944,336.5h1M891,337.5h1M943,337.5h1M892,338.5h1M942,338.5h1M893,339.5h1M941,339.5h1M1059,339.5h1M894,340.5h1M940,340.5h1M895,341.5h1M939,341.5h1M896,342.5h1M938,342.5h1M937,343.5h1M936,344.5h1M898,345.5h1M935,345.5h1M899,346.5h1M934,346.5h1M900,347.5h1M933,347.5h1M901,348.5h1M932,348.5h1M902,349.5h1M931,349.5h1M903,350.5h1M930,350.5h1M904,351.5h1M928,351.5h2M905,352.5h1M927,352.5h1M906,353.5h1M926,353.5h1M907,354.5h3M924,354.5h2M910,355.5h3M923,355.5h1M913,356.5h2M921,356.5h2M915,357.5h6M1071,362.5h1M1073,365.5h1M1075,368.5h1M1076,369.5h1M1077,370.5h1M1078,371.5h1M1079,372.5h1M1080,373.5h1M1081,374.5h1M1082,375.5h1M1083,376.5h1M1084,377.5h1M1085,378.5h1M1118,378.5h8M1086,379.5h1M1114,379.5h4M1126,379.5h4M1087,380.5h1M1111,380.5h3M1130,380.5h3M1088,381.5h1M1110,381.5h1M1133,381.5h2M1089,382.5h1M1108,382.5h2M1135,382.5h1M1090,383.5h1M1107,383.5h1M1136,383.5h2M1091,384.5h2M1105,384.5h2M1138,384.5h1M1093,385.5h2M1103,385.5h2M1139,385.5h2M1095,386.5h3M1101,386.5h2M1141,386.5h2M1098,387.5h3M1143,387.5h2M1145,388.5h2M1147,389.5h2M1162,389.5h4M1149,390.5h2M1154,390.5h8M1166,390.5h7M1151,391.5h3M1173,391.5h2M1175,392.5h2M1177,393.5h2M1210,393.5h2M1179,394.5h2M1202,394.5h8M1181,395.5h2M1199,395.5h3M1183,396.5h3M1197,396.5h2M1186,397.5h4M1194,397.5h3M1190,398.5h4" fill="none" stroke="#0000cd" stroke-width="1" shape-rendering="crispEdges"/>
<path d="M108.5,146v2M110.5,149v2M112.5,152v2M114.5,155v2M117.5,159v2M121.5,164v2M125.5,169v2M129.5,174v2M169.5,202v2M177.5,211v2M185.5,220v2M189.5,225v2M192.5,229v2M194.5,232v2M197.5,236v2M269.5,243v2M273.5,248v2M281.5,257v2M285.5,262v2M289.5,267v2M293.5,272v2M297.5,277v2M301.5,282v2M392.5,317v2M394.5,320v2M397.5,324v2M448.5,326v2M450.5,323v2M452.5,320v2M454.5,317v2M455.5,315v2M456.5,313v2M457.5,311v2M458.5,309v2M460.5,306v2M461.5,304v2M462.5,302v2M464.5,299v2M465.5,297v2M466.5,295v2M468.5,292v2M469.5,290v2M470.5,288v2M472.5,285v2M474.5,282v2M477.5,278v2M501.5,258v2M649.5,284v2M653.5,279v2M657.5,274v2M801.5,271v2M856.5,318v2M858.5,321v2M860.5,324v2M862.5,327v2M864.5,330v2M865.5,332v2M866.5,334v2M867.5,336v2M868.5,338v2M869.5,340v2M870.5,342v2M871.5,344v2M872.5,346v2M873.5,348v2M874.5,350v2M875.5,352v2M876.5,354v2M877.5,356v2M878.5,358v2M879.5,360v3M880.5,363v2M881.5,365v2M882.5,367v2M883.5,369v3M884.5,372v2M885.5,374v2M886.5,376v2M887.5,378v3M888.5,381v2M889.5,383v2M890.5,385v2M893.5,389v2M915.5,396v2M916.5,394v2M917.5,392v2M918.5,390v2M919.5,388v2M920.5,386v2M921.5,384v2M922.5,382v2M923.5,379v3M924.5,376v3M925.5,372v4M926.5,369v3M927.5,366v3M928.5,362v4M929.5,359v3M930.5,355v4M931.5,351v4M932.5,346v5M933.5,342v4M934.5,337v5M935.5,332v5M936.5,328v4M937.5,323v5M938.5,319v4M939.5,314v5M940.5,309v5M941.5,305v4M942.5,300v5M943.5,295v5M944.5,290v5M945.5,286v4M946.5,281v5M947.5,276v5M948.5,272v4M949.5,267v5M950.5,263v4M951.5,259v4M952.5,255v4M953.5,252v3M954.5,248v4M955.5,245v3M956.5,242v3M957.5,240v2M958.5,237v3M959.5,234v3M960.5,232v2M961.5,230v2M962.5,228v2M963.5,226v2M965.5,223v2M975.5,218v2M976.5,220v3M977.5,223v2M978.5,225v3M979.5,228v3M980.5,231v4M981.5,235v4M982.5,239v4M983.5,243v4M984.5,247v5M985.5,252v4M986.5,256v5M987.5,261v5M988.5,266v5M989.5,271v5M990.5,276v5M991.5,281v5M992.5,286v5M993.5,291v5M994.5,296v5M995.5,301v5M996.5,306v5M997.5,311v5M998.5,316v5M999.5,321v5M1000.5,326v5M1001.5,331v4M1002.5,335v5M1003.5,340v5M1004.5,345v4M1005.5,349v5M1006.5,354v4M1007.5,358v4M1008.5,362v3M1009.5,365v2M1010.5,367v3M1011.5,370v2M1029.5,382v2M1037.5,385v2M1040.5,381v2M1042.5,378v2M1044.5,375v2M1045.5,373v2M1046.5,371v2M1048.5,368v2M1050.5,365v2M1109.5,386v2M1133.5,395v2M98,139.5h3M95,140.5h3M101,140.5h2M93,141.5h2M103,141.5h1M91,142.5h2M104,142.5h1M90,143.5h1M105,143.5h1M88,144.5h2M106,144.5h1M87,145.5h1M107,145.5h1M86,146.5h1M84,147.5h2M83,148.5h1M109,148.5h1M82,149.5h1M81,150.5h1M80,151.5h1M111,151.5h1M79,152.5h1M78,153.5h1M76,154.5h2M113,154.5h1M75,155.5h1M74,156.5h1M72,157.5h2M115,157.5h1M71,158.5h1M116,158.5h1M69,159.5h2M67,160.5h2M66,161.5h1M118,161.5h1M64,162.5h2M119,162.5h1M63,163.5h1M120,163.5h1M61,164.5h2M59,165.5h2M57,166.5h2M122,166.5h1M55,167.5h2M123,167.5h1M54,168.5h1M124,168.5h1M52,169.5h2M51,170.5h1M50,171.5h1M126,171.5h1M49,172.5h1M127,172.5h1M48,173.5h1M128,173.5h1M46,174.5h2M42,175.5h4M38,176.5h4M130,176.5h1M35,177.5h3M131,177.5h1M34,178.5h1M132,178.5h1M32,179.5h2M133,179.5h1M31,180.5h1M134,180.5h1M30,181.5h1M135,181.5h1M28,182.5h2M136,182.5h1M27,183.5h1M137,183.5h1M26,184.5h1M138,184.5h1M25,185.5h1M139,185.5h1M24,186.5h1M140,186.5h2M23,187.5h1M142,187.5h1M22,188.5h1M143,188.5h2M21,189.5h1M145,189.5h2M20,190.5h1M147,190.5h3M19,191.5h1M150,191.5h4M18,192.5h1M154,192.5h3M17,193.5h1M157,193.5h2M16,194.5h1M159,194.5h1M15,195.5h1M160,195.5h2M14,196.5h1M162,196.5h1M13,197.5h1M163,197.5h1M12,198.5h1M164,198.5h2M11,199.5h1M166,199.5h1M10,200.5h1M167,200.5h1M9,201.5h1M168,201.5h1M8,202.5h1M7,203.5h1M170,204.5h1M171,205.5h1M172,206.5h1M173,207.5h1M174,208.5h1M175,209.5h1M176,210.5h1M178,213.5h1M179,214.5h1M180,215.5h1M181,216.5h1M182,217.5h1M971,217.5h3M183,218.5h1M970,218.5h1M974,218.5h1M184,219.5h1M969,219.5h1M968,220.5h1M967,221.5h1M186,222.5h1M966,222.5h1M187,223.5h1M188,224.5h1M964,225.5h1M190,227.5h1M191,228.5h1M234,228.5h3M231,229.5h3M237,229.5h2M229,230.5h2M239,230.5h2M247,230.5h3M193,231.5h1M227,231.5h2M241,231.5h2M245,231.5h2M250,231.5h3M750,231.5h7M226,232.5h1M243,232.5h2M253,232.5h2M742,232.5h8M757,232.5h2M224,233.5h2M255,233.5h1M739,233.5h3M759,233.5h2M195,234.5h1M223,234.5h1M256,234.5h2M737,234.5h2M761,234.5h2M196,235.5h1M221,235.5h2M258,235.5h1M735,235.5h2M763,235.5h1M219,236.5h2M259,236.5h1M734,236.5h1M764,236.5h1M218,237.5h1M260,237.5h2M732,237.5h2M765,237.5h1M198,238.5h1M216,238.5h2M262,238.5h1M731,238.5h1M766,238.5h1M199,239.5h2M214,239.5h2M263,239.5h2M730,239.5h1M767,239.5h1M201,240.5h2M211,240.5h3M265,240.5h2M728,240.5h2M768,240.5h1M203,241.5h3M209,241.5h2M267,241.5h1M727,241.5h1M769,241.5h1M206,242.5h3M268,242.5h1M726,242.5h1M770,242.5h1M724,243.5h2M771,243.5h1M722,244.5h2M772,244.5h2M270,245.5h1M719,245.5h3M774,245.5h1M271,246.5h1M717,246.5h2M775,246.5h1M272,247.5h1M715,247.5h2M776,247.5h1M714,248.5h1M777,248.5h1M712,249.5h2M778,249.5h1M274,250.5h1M511,250.5h5M711,250.5h1M779,250.5h1M275,251.5h1M509,251.5h2M516,251.5h2M710,251.5h1M780,251.5h2M276,252.5h1M507,252.5h2M518,252.5h1M708,252.5h2M782,252.5h1M277,253.5h1M506,253.5h1M519,253.5h1M707,253.5h1M783,253.5h1M278,254.5h1M505,254.5h1M520,254.5h1M706,254.5h1M784,254.5h1M279,255.5h1M504,255.5h1M521,255.5h1M704,255.5h2M785,255.5h1M280,256.5h1M503,256.5h1M522,256.5h1M703,256.5h1M786,256.5h1M502,257.5h1M523,257.5h1M701,257.5h2M787,257.5h1M524,258.5h2M699,258.5h2M788,258.5h1M282,259.5h1M526,259.5h1M698,259.5h1M789,259.5h1M283,260.5h1M500,260.5h1M527,260.5h1M696,260.5h2M790,260.5h1M284,261.5h1M499,261.5h1M528,261.5h1M694,261.5h2M791,261.5h1M498,262.5h1M529,262.5h1M690,262.5h4M792,262.5h1M496,263.5h2M530,263.5h1M686,263.5h4M793,263.5h1M286,264.5h1M495,264.5h1M531,264.5h2M678,264.5h8M794,264.5h1M287,265.5h1M494,265.5h1M533,265.5h2M670,265.5h8M795,265.5h1M288,266.5h1M492,266.5h2M535,266.5h2M667,266.5h3M796,266.5h1M491,267.5h1M537,267.5h2M665,267.5h2M797,267.5h1M489,268.5h2M539,268.5h1M663,268.5h2M798,268.5h1M290,269.5h1M487,269.5h2M540,269.5h2M662,269.5h1M799,269.5h1M291,270.5h1M486,270.5h1M542,270.5h1M661,270.5h1M800,270.5h1M292,271.5h1M484,271.5h2M543,271.5h1M660,271.5h1M483,272.5h1M544,272.5h1M659,272.5h1M482,273.5h1M545,273.5h1M658,273.5h1M802,273.5h1M294,274.5h1M481,274.5h1M546,274.5h1M803,274.5h1M295,275.5h1M480,275.5h1M547,275.5h1M804,275.5h1M296,276.5h1M479,276.5h1M548,276.5h2M656,276.5h1M805,276.5h1M478,277.5h1M550,277.5h1M655,277.5h1M806,277.5h1M551,278.5h1M654,278.5h1M807,278.5h1M298,279.5h1M552,279.5h1M808,279.5h1M299,280.5h1M476,280.5h1M553,280.5h1M809,280.5h1M300,281.5h1M475,281.5h1M554,281.5h1M652,281.5h1M810,281.5h1M555,282.5h1M651,282.5h1M811,282.5h1M556,283.5h1M650,283.5h1M812,283.5h2M302,284.5h1M473,284.5h1M557,284.5h1M814,284.5h1M303,285.5h2M558,285.5h1M815,285.5h2M305,286.5h2M559,286.5h1M648,286.5h1M817,286.5h2M307,287.5h2M471,287.5h1M560,287.5h1M647,287.5h1M819,287.5h2M309,288.5h2M561,288.5h1M646,288.5h1M821,288.5h2M311,289.5h2M562,289.5h1M645,289.5h1M823,289.5h1M313,290.5h2M563,290.5h1M644,290.5h1M824,290.5h2M315,291.5h1M564,291.5h1M643,291.5h1M826,291.5h1M316,292.5h2M565,292.5h1M642,292.5h1M827,292.5h2M318,293.5h1M566,293.5h1M640,293.5h2M829,293.5h2M319,294.5h1M467,294.5h1M567,294.5h2M639,294.5h1M831,294.5h1M320,295.5h1M569,295.5h2M637,295.5h2M832,295.5h2M321,296.5h1M571,296.5h11M635,296.5h2M834,296.5h1M322,297.5h1M359,297.5h3M582,297.5h4M614,297.5h16M633,297.5h2M835,297.5h1M323,298.5h1M358,298.5h1M362,298.5h7M586,298.5h4M610,298.5h4M630,298.5h3M836,298.5h1M324,299.5h1M356,299.5h2M369,299.5h2M590,299.5h4M606,299.5h4M837,299.5h1M325,300.5h1M355,300.5h1M371,300.5h2M594,300.5h4M602,300.5h4M838,300.5h1M326,301.5h1M354,301.5h1M373,301.5h2M463,301.5h1M598,301.5h4M839,301.5h1M327,302.5h1M352,302.5h2M375,302.5h1M840,302.5h1M328,303.5h2M351,303.5h1M376,303.5h2M841,303.5h1M330,304.5h1M349,304.5h2M378,304.5h1M842,304.5h1M331,305.5h3M346,305.5h3M379,305.5h1M843,305.5h1M334,306.5h12M380,306.5h2M844,306.5h1M382,307.5h1M845,307.5h1M383,308.5h1M459,308.5h1M846,308.5h1M384,309.5h1M847,309.5h1M385,310.5h1M848,310.5h1M386,311.5h1M849,311.5h1M387,312.5h1M850,312.5h1M388,313.5h1M851,313.5h1M389,314.5h1M852,314.5h1M390,315.5h1M853,315.5h1M391,316.5h1M854,316.5h1M855,317.5h1M393,319.5h1M453,319.5h1M857,320.5h1M395,322.5h1M451,322.5h1M396,323.5h1M859,323.5h1M449,325.5h1M398,326.5h1M861,326.5h1M399,327.5h1M400,328.5h1M447,328.5h1M401,329.5h1M446,329.5h1M863,329.5h1M402,330.5h1M445,330.5h1M403,331.5h1M444,331.5h1M404,332.5h2M443,332.5h1M406,333.5h1M442,333.5h1M407,334.5h1M440,334.5h2M408,335.5h2M439,335.5h1M410,336.5h1M438,336.5h1M411,337.5h2M437,337.5h1M413,338.5h2M436,338.5h1M415,339.5h2M435,339.5h1M417,340.5h2M434,340.5h1M419,341.5h3M433,341.5h1M422,342.5h4M432,342.5h1M426,343.5h6M1059,357.5h1M1058,358.5h1M1060,358.5h1M1056,359.5h2M1061,359.5h1M1055,360.5h1M1062,360.5h1M1054,361.5h1M1063,361.5h1M1053,362.5h1M1064,362.5h1M1052,363.5h1M1065,363.5h1M1051,364.5h1M1066,364.5h1M1067,365.5h1M1068,366.5h1M1049,367.5h1M1069,367.5h1M1070,368.5h1M1071,369.5h1M1047,370.5h1M1072,370.5h1M1012,371.5h2M1073,371.5h1M1014,372.5h4M1074,372.5h1M1018,373.5h2M1075,373.5h1M1020,374.5h2M1076,374.5h2M1022,375.5h1M1078,375.5h1M1023,376.5h1M1079,376.5h1M1024,377.5h1M1043,377.5h1M1080,377.5h2M1025,378.5h1M1082,378.5h1M1026,379.5h1M1083,379.5h3M1098,379.5h3M1027,380.5h1M1041,380.5h1M1086,380.5h3M1095,380.5h3M1101,380.5h2M1028,381.5h1M1089,381.5h2M1093,381.5h2M1103,381.5h1M1091,382.5h2M1104,382.5h2M1039,383.5h1M1106,383.5h1M1030,384.5h1M1038,384.5h1M1107,384.5h1M1031,385.5h1M1108,385.5h1M1032,386.5h2M891,387.5h1M1034,387.5h1M1036,387.5h1M892,388.5h1M1035,388.5h1M1110,388.5h1M1111,389.5h1M1210,389.5h2M1112,390.5h1M1207,390.5h3M894,391.5h1M1113,391.5h1M1167,391.5h7M1206,391.5h1M895,392.5h1M1114,392.5h1M1138,392.5h4M1165,392.5h2M1174,392.5h2M1205,392.5h1M896,393.5h1M1115,393.5h1M1135,393.5h3M1142,393.5h3M1163,393.5h2M1176,393.5h1M1204,393.5h1M897,394.5h1M1116,394.5h1M1134,394.5h1M1145,394.5h2M1161,394.5h2M1177,394.5h1M1203,394.5h1M898,395.5h1M1117,395.5h1M1147,395.5h3M1158,395.5h3M1178,395.5h1M1202,395.5h1M899,396.5h1M1118,396.5h1M1150,396.5h8M1179,396.5h1M1200,396.5h2M900,397.5h2M1119,397.5h1M1132,397.5h1M1180,397.5h2M1199,397.5h1M902,398.5h1M914,398.5h1M1120,398.5h2M1131,398.5h1M1182,398.5h1M1198,398.5h1M903,399.5h1M912,399.5h2M1122,399.5h1M1129,399.5h2M1183,399.5h2M1197,399.5h1M904,400.5h2M911,400.5h1M1123,400.5h6M1185,400.5h2M1196,400.5h1M906,401.5h1M909,401.5h2M1187,401.5h1M1195,401.5h1M907,402.5h2M1188,402.5h2M1194,402.5h1M1190,403.5h1M1192,403.5h2M1191,404.5h1" fill="none" stroke="#ff0000" stroke-width="1" shape-rendering="crispEdges"/>
<path d="M12.5,158v2M13.5,156v2M14.5,154v2M16.5,151v2M18.5,148v2M23.5,151v2M24.5,153v4M25.5,157v3M26.5,160v4M27.5,164v3M28.5,167v3M29.5,170v2M30.5,172v3M31.5,175v3M32.5,178v2M33.5,180v2M34.5,182v2M35.5,184v3M36.5,187v3M37.5,190v4M38.5,194v3M39.5,197v2M40.5,199v2M42.5,202v2M43.5,203v2M44.5,201v2M45.5,199v2M46.5,197v2M47.5,195v2M48.5,192v3M49.5,188v4M50.5,185v3M51.5,182v3M52.5,178v4M53.5,174v4M54.5,170v4M55.5,166v4M56.5,161v5M57.5,155v6M58.5,150v5M59.5,145v5M60.5,140v5M61.5,136v4M62.5,131v5M63.5,127v4M64.5,124v3M65.5,122v2M66.5,119v3M67.5,117v2M69.5,114v2M79.5,113v2M80.5,115v2M81.5,117v2M82.5,119v2M83.5,121v3M84.5,124v2M85.5,126v3M86.5,129v2M87.5,131v3M88.5,134v2M89.5,136v3M90.5,139v2M91.5,141v3M92.5,144v2M93.5,146v3M94.5,149v2M95.5,151v4M96.5,155v4M97.5,159v5M98.5,164v4M99.5,168v4M100.5,172v2M101.5,174v2M102.5,176v2M103.5,178v3M104.5,181v2M105.5,183v3M106.5,186v2M107.5,188v2M108.5,190v2M109.5,192v2M110.5,194v2M117.5,195v2M124.5,188v2M125.5,186v2M126.5,184v2M128.5,181v2M130.5,178v2M132.5,178v2M134.5,181v2M144.5,190v2M146.5,193v2M155.5,199v2M156.5,201v2M157.5,203v2M158.5,205v2M159.5,207v2M160.5,209v2M161.5,211v3M162.5,214v2M163.5,216v2M164.5,218v2M165.5,220v2M166.5,222v2M167.5,224v2M168.5,226v3M169.5,229v2M170.5,231v3M171.5,234v3M172.5,237v2M173.5,239v2M174.5,241v2M175.5,243v2M188.5,248v2M190.5,251v2M201.5,255v2M204.5,251v2M205.5,249v2M206.5,247v2M207.5,244v3M208.5,239v5M209.5,235v4M210.5,230v5M211.5,226v4M212.5,224v2M213.5,221v3M214.5,219v2M215.5,216v3M216.5,213v3M217.5,210v3M218.5,207v3M219.5,205v2M228.5,204v2M230.5,207v2M232.5,210v2M234.5,213v2M235.5,215v2M236.5,217v3M237.5,220v4M238.5,224v3M239.5,227v3M240.5,230v3M241.5,233v4M242.5,237v3M243.5,240v3M244.5,243v3M245.5,246v3M246.5,249v3M247.5,252v3M248.5,255v2M249.5,257v2M250.5,259v2M251.5,261v2M252.5,263v2M254.5,266v2M265.5,266v2M269.5,261v2M283.5,257v2M284.5,259v2M285.5,261v3M286.5,264v2M287.5,266v4M288.5,270v4M289.5,274v4M290.5,278v4M291.5,282v4M292.5,286v4M293.5,290v4M294.5,294v4M295.5,298v3M296.5,301v3M297.5,304v4M298.5,308v3M299.5,311v3M300.5,314v3M301.5,317v4M302.5,321v3M303.5,324v2M309.5,325v2M312.5,321v2M313.5,319v2M314.5,317v2M316.5,314v2M317.5,312v2M318.5,310v2M319.5,308v2M320.5,306v2M321.5,303v3M322.5,301v2M323.5,299v2M337.5,295v2M348.5,294v2M349.5,292v2M350.5,290v2M360.5,295v2M362.5,298v2M367.5,298v2M368.5,300v2M369.5,302v2M370.5,304v2M372.5,307v2M374.5,310v2M375.5,312v2M376.5,314v3M377.5,317v2M378.5,319v3M379.5,322v3M380.5,325v2M381.5,327v2M382.5,329v2M383.5,331v3M384.5,334v2M385.5,336v2M386.5,338v2M389.5,342v2M391.5,345v2M392.5,347v3M393.5,350v3M394.5,353v3M395.5,356v2M405.5,354v2M411.5,347v2M412.5,345v2M413.5,343v2M414.5,341v2M415.5,339v2M416.5,337v2M418.5,334v2M429.5,331v2M432.5,327v2M434.5,324v2M436.5,321v2M438.5,318v2M439.5,316v2M440.5,314v2M441.5,312v2M442.5,310v2M443.5,308v2M445.5,305v2M448.5,301v2M449.5,299v2M450.5,297v2M451.5,295v2M452.5,293v2M453.5,290v3M454.5,288v2M455.5,285v3M456.5,282v3M457.5,279v3M458.5,276v3M459.5,273v3M460.5,269v4M461.5,265v4M462.5,261v4M463.5,258v3M464.5,255v3M465.5,252v3M466.5,249v3M467.5,247v2M468.5,245v2M470.5,242v2M476.5,243v2M478.5,246v2M479.5,248v2M480.5,250v2M481.5,252v2M482.5,254v2M483.5,256v2M484.5,258v2M485.5,260v2M486.5,262v2M489.5,266v2M499.5,265v2M500.5,263v2M501.5,261v2M502.5,259v2M503.5,257v2M504.5,255v2M505.5,252v3M506.5,250v2M507.5,248v2M508.5,246v2M509.5,244v2M510.5,242v2M517.5,239v2M519.5,242v2M520.5,244v2M521.5,246v2M522.5,248v2M523.5,250v3M524.5,253v3M525.5,256v4M526.5,260v3M527.5,263v4M528.5,267v4M529.5,271v4M530.5,275v4M531.5,279v3M532.5,282v4M533.5,286v4M534.5,290v4M535.5,294v2M540.5,300v2M541.5,302v2M542.5,304v2M559.5,305v2M560.5,303v2M561.5,301v2M562.5,299v2M564.5,296v2M565.5,294v2M566.5,292v2M568.5,289v2M569.5,287v2M570.5,285v2M580.5,285v2M582.5,288v2M583.5,290v2M584.5,292v2M585.5,294v2M586.5,296v2M589.5,300v2M591.5,303v2M592.5,305v2M593.5,307v2M594.5,309v2M595.5,311v2M608.5,311v2M610.5,308v2M611.5,306v2M612.5,304v2M613.5,302v2M614.5,300v2M615.5,297v3M616.5,295v2M617.5,293v2M618.5,291v2M619.5,289v2M620.5,287v2M621.5,285v2M622.5,283v2M644.5,280v2M645.5,278v2M646.5,276v2M647.5,274v2M648.5,272v2M649.5,270v2M650.5,268v2M651.5,266v2M653.5,263v2M656.5,259v2M658.5,256v2M659.5,254v2M660.5,252v2M661.5,250v2M662.5,248v2M675.5,252v2M676.5,254v2M677.5,256v2M678.5,258v2M680.5,261v2M681.5,263v2M682.5,265v2M695.5,272v2M696.5,270v2M697.5,267v3M698.5,265v2M699.5,262v3M700.5,259v3M701.5,257v2M702.5,254v3M703.5,251v3M704.5,248v3M705.5,245v3M706.5,242v3M707.5,239v3M708.5,235v4M709.5,231v4M710.5,227v4M711.5,224v3M712.5,221v3M713.5,217v4M714.5,214v3M715.5,212v2M731.5,218v2M732.5,220v2M733.5,222v2M734.5,224v2M735.5,226v2M736.5,228v2M737.5,230v2M738.5,232v2M739.5,234v2M740.5,236v2M741.5,238v2M742.5,240v2M744.5,243v2M746.5,246v2M748.5,249v2M749.5,251v2M750.5,253v2M761.5,252v2M773.5,252v2M780.5,260v2M782.5,263v2M784.5,266v2M785.5,268v2M786.5,270v2M789.5,274v2M791.5,277v2M792.5,279v2M793.5,281v2M794.5,283v2M797.5,287v2M799.5,290v2M800.5,292v2M801.5,294v3M802.5,297v2M803.5,299v3M804.5,302v2M805.5,304v2M806.5,306v2M809.5,310v2M817.5,308v2M819.5,305v2M820.5,303v2M821.5,301v2M822.5,299v2M823.5,297v2M825.5,294v2M835.5,292v2M836.5,294v3M837.5,297v2M838.5,299v3M839.5,302v3M840.5,305v4M841.5,309v3M842.5,312v4M843.5,316v3M844.5,319v3M845.5,322v2M846.5,324v3M847.5,327v3M848.5,330v3M849.5,333v4M850.5,337v3M851.5,340v3M852.5,343v2M853.5,345v2M854.5,347v2M855.5,349v3M856.5,352v2M857.5,354v2M858.5,356v2M859.5,358v3M860.5,361v3M861.5,364v4M862.5,368v3M863.5,371v3M864.5,374v3M865.5,377v2M866.5,379v3M867.5,382v3M868.5,385v2M869.5,387v2M870.5,389v2M871.5,391v3M872.5,394v2M873.5,396v3M874.5,399v2M875.5,401v3M876.5,404v2M877.5,406v2M878.5,408v2M880.5,411v2M882.5,414v2M899.5,411v2M900.5,409v2M901.5,407v2M902.5,405v2M904.5,402v2M905.5,400v2M906.5,398v2M907.5,396v2M908.5,392v4M909.5,388v4M910.5,384v4M911.5,381v3M912.5,377v4M913.5,374v3M914.5,370v4M915.5,366v4M916.5,361v5M917.5,357v4M918.5,352v5M919.5,346v6M920.5,339v7M921.5,331v8M922.5,324v7M923.5,316v8M924.5,308v8M925.5,299v9M926.5,291v8M927.5,284v7M928.5,280v4M929.5,276v4M930.5,272v4M931.5,267v5M932.5,261v6M933.5,256v5M934.5,250v6M935.5,244v6M936.5,236v8M937.5,229v7M938.5,221v8M939.5,215v6M940.5,210v5M941.5,205v5M942.5,200v5M943.5,194v6M944.5,187v7M945.5,181v6M946.5,174v7M947.5,168v6M948.5,162v6M949.5,157v5M950.5,151v6M951.5,147v4M952.5,145v2M953.5,142v3M954.5,140v2M955.5,138v4M956.5,142v6M957.5,148v6M958.5,154v6M959.5,160v7M960.5,167v7M961.5,174v6M962.5,180v7M963.5,187v8M964.5,195v10M965.5,205v9M966.5,214v10M967.5,224v7M968.5,231v6M969.5,237v5M970.5,242v6M971.5,248v7M972.5,255v8M973.5,263v9M974.5,272v8M975.5,280v8M976.5,288v7M977.5,295v6M978.5,301v7M979.5,308v9M980.5,317v10M981.5,327v10M982.5,337v10M983.5,347v11M984.5,358v10M985.5,368v11M986.5,379v10M987.5,389v12M988.5,401v13M989.5,414v14M990.5,428v13M991.5,441v9M992.5,450v6M993.5,456v6M994.5,462v6M995.5,468v3M999.5,473v2M1000.5,469v4M1001.5,465v4M1002.5,461v4M1003.5,455v6M1004.5,446v9M1005.5,436v10M1006.5,427v9M1007.5,417v10M1008.5,406v11M1009.5,394v12M1010.5,383v11M1011.5,373v10M1012.5,363v10M1013.5,353v10M1014.5,343v10M1015.5,335v8M1016.5,329v6M1017.5,323v6M1018.5,317v6M1019.5,312v5M1020.5,307v5M1021.5,303v4M1022.5,298v5M1023.5,295v3M1024.5,297v2M1025.5,299v3M1026.5,302v2M1027.5,304v4M1028.5,308v6M1029.5,314v5M1030.5,319v6M1031.5,325v7M1032.5,332v9M1033.5,341v8M1034.5,349v9M1035.5,358v7M1036.5,365v6M1037.5,371v5M1038.5,376v6M1039.5,382v5M1040.5,387v6M1041.5,393v6M1042.5,399v6M1043.5,405v3M1045.5,409v2M1051.5,410v3M1052.5,406v4M1053.5,402v4M1054.5,398v4M1055.5,395v3M1056.5,391v4M1057.5,387v4M1058.5,383v4M1059.5,380v3M1060.5,376v4M1061.5,373v3M1062.5,369v4M1063.5,367v2M1067.5,363v2M1068.5,360v3M1069.5,358v2M1070.5,355v3M1071.5,353v2M1075.5,355v2M1076.5,357v3M1077.5,360v3M1078.5,363v3M1079.5,366v2M1080.5,368v2M1082.5,371v2M1087.5,377v2M1088.5,379v2M1089.5,381v3M1090.5,384v2M1091.5,386v3M1092.5,389v2M1093.5,391v2M1094.5,393v2M1099.5,396v2M1100.5,398v2M1101.5,400v2M1102.5,402v2M1103.5,404v2M1104.5,406v2M1105.5,408v2M1106.5,410v2M1107.5,412v2M1108.5,414v2M1109.5,416v2M1110.5,418v2M1121.5,419v2M1123.5,416v2M1124.5,412v4M1125.5,408v4M1126.5,404v4M1127.5,400v4M1128.5,394v6M1129.5,389v5M1130.5,383v6M1131.5,378v5M1132.5,374v4M1133.5,370v4M1134.5,366v4M1135.5,363v3M1136.5,361v2M1137.5,359v2M1138.5,357v2M1143.5,357v2M1144.5,359v4M1145.5,363v3M1146.5,366v4M1147.5,370v4M1148.5,374v5M1149.5,379v5M1150.5,384v5M1151.5,389v4M1152.5,393v3M1153.5,396v2M1154.5,398v3M1155.5,401v3M1156.5,404v2M1157.5,406v2M1158.5,408v2M1164.5,411v2M1165.5,409v2M1166.5,407v2M1171.5,404v2M1172.5,406v2M1173.5,408v2M1174.5,410v2M1175.5,412v2M1187.5,411v2M1188.5,408v3M1189.5,405v3M1190.5,402v3M1191.5,398v4M1192.5,393v5M1193.5,388v5M1194.5,383v5M1195.5,379v4M1196.5,375v4M1197.5,372v3M1198.5,368v4M1199.5,365v3M1200.5,363v2M1201.5,361v2M1202.5,359v2M1203.5,357v2M71,112.5h7M70,113.5h1M78,113.5h1M68,116.5h1M19,147.5h1M20,148.5h1M21,149.5h1M17,150.5h1M22,150.5h1M15,153.5h1M11,160.5h1M10,161.5h1M9,162.5h1M8,163.5h1M7,164.5h1M131,177.5h1M129,180.5h1M133,180.5h1M127,183.5h1M135,183.5h1M136,184.5h2M138,185.5h1M139,186.5h1M140,187.5h2M142,188.5h1M143,189.5h1M123,190.5h1M122,191.5h1M120,192.5h2M145,192.5h1M119,193.5h1M118,194.5h1M147,195.5h1M111,196.5h2M148,196.5h1M113,197.5h2M116,197.5h1M149,197.5h1M115,198.5h1M150,198.5h1M151,199.5h4M41,201.5h1M226,203.5h2M222,204.5h4M220,205.5h2M229,206.5h1M719,208.5h2M231,209.5h1M718,209.5h1M721,209.5h2M717,210.5h1M723,210.5h1M716,211.5h1M724,211.5h1M233,212.5h1M725,212.5h1M726,213.5h1M727,214.5h1M728,215.5h1M729,216.5h1M730,217.5h1M515,237.5h1M514,238.5h1M516,238.5h1M513,239.5h1M512,240.5h1M471,241.5h3M511,241.5h1M518,241.5h1M474,242.5h2M743,242.5h1M176,244.5h2M469,244.5h1M178,245.5h7M477,245.5h1M745,245.5h1M185,246.5h2M187,247.5h1M663,247.5h6M767,247.5h1M669,248.5h2M747,248.5h1M766,248.5h1M768,248.5h2M671,249.5h1M764,249.5h2M770,249.5h1M189,250.5h1M672,250.5h2M763,250.5h1M771,250.5h1M674,251.5h1M762,251.5h1M772,251.5h1M191,253.5h3M203,253.5h1M194,254.5h2M202,254.5h1M760,254.5h1M774,254.5h1M196,255.5h1M751,255.5h3M758,255.5h2M775,255.5h1M197,256.5h1M754,256.5h4M776,256.5h1M198,257.5h1M200,257.5h1M275,257.5h8M777,257.5h1M199,258.5h1M273,258.5h2M657,258.5h1M778,258.5h1M271,259.5h2M779,259.5h1M270,260.5h1M679,260.5h1M655,261.5h1M654,262.5h1M781,262.5h1M268,263.5h1M267,264.5h1M487,264.5h1M253,265.5h1M266,265.5h1M488,265.5h1M652,265.5h1M783,265.5h1M498,267.5h1M683,267.5h1M255,268.5h3M264,268.5h1M490,268.5h1M496,268.5h2M684,268.5h1M258,269.5h6M491,269.5h5M685,269.5h1M686,270.5h1M687,271.5h1M688,272.5h2M787,272.5h1M690,273.5h1M694,273.5h1M788,273.5h1M691,274.5h3M790,276.5h1M627,278.5h2M626,279.5h1M629,279.5h2M625,280.5h1M631,280.5h3M624,281.5h1M634,281.5h8M575,282.5h2M623,282.5h1M642,282.5h2M573,283.5h2M577,283.5h2M571,284.5h2M579,284.5h1M795,285.5h1M796,286.5h1M581,287.5h1M831,288.5h1M351,289.5h2M798,289.5h1M830,289.5h1M832,289.5h1M353,290.5h2M829,290.5h1M833,290.5h1M355,291.5h1M567,291.5h1M828,291.5h1M834,291.5h1M342,292.5h2M356,292.5h2M827,292.5h1M339,293.5h3M344,293.5h1M358,293.5h1M826,293.5h1M338,294.5h1M345,294.5h1M359,294.5h1M346,295.5h1M347,296.5h1M536,296.5h1M824,296.5h1M327,297.5h1M336,297.5h1M361,297.5h1M537,297.5h1M325,298.5h2M328,298.5h1M335,298.5h1M538,298.5h1M563,298.5h1M587,298.5h1M324,299.5h1M329,299.5h1M334,299.5h1M365,299.5h2M539,299.5h1M588,299.5h1M330,300.5h1M332,300.5h2M363,300.5h2M331,301.5h1M590,302.5h1M447,303.5h1M446,304.5h1M371,306.5h1M543,306.5h1M444,307.5h1M544,307.5h1M557,307.5h2M818,307.5h1M545,308.5h1M555,308.5h2M807,308.5h1M373,309.5h1M546,309.5h1M554,309.5h1M808,309.5h1M547,310.5h2M553,310.5h1M609,310.5h1M816,310.5h1M549,311.5h2M552,311.5h1M815,311.5h1M551,312.5h1M596,312.5h1M810,312.5h1M813,312.5h2M597,313.5h2M606,313.5h2M811,313.5h2M599,314.5h7M315,316.5h1M437,320.5h1M311,323.5h1M435,323.5h1M310,324.5h1M304,326.5h2M433,326.5h1M306,327.5h1M308,327.5h1M307,328.5h1M431,329.5h1M430,330.5h1M419,333.5h7M428,333.5h1M426,334.5h2M417,336.5h1M387,340.5h1M388,341.5h1M390,344.5h1M410,349.5h1M409,350.5h1M408,351.5h1M407,352.5h1M406,353.5h1M1072,353.5h1M1073,354.5h2M404,356.5h1M1139,356.5h3M396,357.5h2M402,357.5h2M1142,357.5h1M1204,357.5h2M398,358.5h4M1206,358.5h2M1208,359.5h1M1209,360.5h1M1210,361.5h1M1211,362.5h1M1066,365.5h1M1064,366.5h2M1081,370.5h1M1083,373.5h1M1084,374.5h1M1085,375.5h1M1086,376.5h1M1095,395.5h3M1098,396.5h1M903,404.5h1M1169,405.5h2M1167,406.5h2M1044,408.5h1M879,410.5h1M1159,410.5h1M1046,411.5h1M1160,411.5h2M1047,412.5h4M1162,412.5h1M881,413.5h1M898,413.5h1M1163,413.5h1M1186,413.5h1M896,414.5h2M1176,414.5h2M1185,414.5h1M895,415.5h1M1178,415.5h1M1184,415.5h1M883,416.5h1M894,416.5h1M1179,416.5h5M884,417.5h1M893,417.5h1M885,418.5h1M892,418.5h1M1122,418.5h1M886,419.5h1M890,419.5h2M887,420.5h3M1111,420.5h1M1112,421.5h2M1120,421.5h1M1114,422.5h1M1118,422.5h2M1115,423.5h3M996,471.5h1M997,472.5h1M998,473.5h1" fill="none" stroke="#ffa500" stroke-width="1" shape-rendering="crispEdges"/>
<g shape-rendering="crispEdges">
<rect x="7" y="154" width="1515" height="2" fill="#ff0000" />
<rect x="7" y="210" width="1515" height="2" fill="#ff0000" />
<rect x="7" y="264" width="1515" height="2" fill="#ff0000" />
<rect x="7" y="319" width="1515" height="2" fill="#ff0000" />
<rect x="7" y="384" width="1515" height="2" fill="#00ff00" />
<rect x="7" y="445" width="1515" height="2" fill="#0000ff" />
<rect x="7" y="521" width="1515" height="2" fill="#0000ff" />
</g>
<path d="M10,32 L17,32 L13.5,36 Z" fill="#000"/>
<text x="22.3" y="36.8" fill="#000" font-size="9.33" text-anchor="start" textLength="63.5" lengthAdjust="spacingAndGlyphs">EURUSD,Daily</text>
<text x="92.3" y="36.8" fill="#000" font-size="9.33" text-anchor="start" textLength="140.5" lengthAdjust="spacingAndGlyphs">1.09035 1.09079 1.08979 1.08979</text>
<path d="M1212,26 L1223,26 L1217.5,31.5 Z" fill="#c0c0c0"/>
<rect x="1523" y="32" width="2" height="1" fill="#000" />
<text x="1528.5" y="36" fill="#000" font-size="9.33" text-anchor="start" letter-spacing="-0.17">1.15280</text>
<rect x="1523" y="65" width="2" height="1" fill="#000" />
<text x="1528.5" y="69" fill="#000" font-size="9.33" text-anchor="start" letter-spacing="-0.17">1.14680</text>
<rect x="1523" y="98" width="2" height="1" fill="#000" />
<text x="1528.5" y="102" fill="#000" font-size="9.33" text-anchor="start" letter-spacing="-0.17">1.14065</text>
<rect x="1523" y="131" width="2" height="1" fill="#000" />
<text x="1528.5" y="135" fill="#000" font-size="9.33" text-anchor="start" letter-spacing="-0.17">1.13465</text>
<rect x="1523" y="164" width="2" height="1" fill="#000" />
<text x="1528.5" y="168" fill="#000" font-size="9.33" text-anchor="start" letter-spacing="-0.17">1.12865</text>
<rect x="1523" y="197" width="2" height="1" fill="#000" />
<text x="1528.5" y="201" fill="#000" font-size="9.33" text-anchor="start" letter-spacing="-0.17">1.12250</text>
<rect x="1523" y="230" width="2" height="1" fill="#000" />
<text x="1528.5" y="234" fill="#000" font-size="9.33" text-anchor="start" letter-spacing="-0.17">1.11650</text>
<rect x="1523" y="263" width="2" height="1" fill="#000" />
<text x="1528.5" y="267" fill="#000" font-size="9.33" text-anchor="start" letter-spacing="-0.17">1.11035</text>
<rect x="1523" y="296" width="2" height="1" fill="#000" />
<text x="1528.5" y="300" fill="#000" font-size="9.33" text-anchor="start" letter-spacing="-0.17">1.10435</text>
<rect x="1523" y="329" width="2" height="1" fill="#000" />
<text x="1528.5" y="333" fill="#000" font-size="9.33" text-anchor="start" letter-spacing="-0.17">1.09835</text>
<rect x="1523" y="362" width="2" height="1" fill="#000" />
<text x="1528.5" y="366" fill="#000" font-size="9.33" text-anchor="start" letter-spacing="-0.17">1.09235</text>
<rect x="1523" y="395" width="2" height="1" fill="#000" />
<text x="1528.5" y="399" fill="#000" font-size="9.33" text-anchor="start" letter-spacing="-0.17">1.08620</text>
<rect x="1523" y="428" width="2" height="1" fill="#000" />
<text x="1528.5" y="432" fill="#000" font-size="9.33" text-anchor="start" letter-spacing="-0.17">1.08020</text>
<rect x="1523" y="461" width="2" height="1" fill="#000" />
<text x="1528.5" y="465" fill="#000" font-size="9.33" text-anchor="start" letter-spacing="-0.17">1.07420</text>
<rect x="1523" y="494" width="2" height="1" fill="#000" />
<text x="1528.5" y="498" fill="#000" font-size="9.33" text-anchor="start" letter-spacing="-0.17">1.06805</text>
<rect x="1523" y="527" width="2" height="1" fill="#000" />
<text x="1528.5" y="531" fill="#000" font-size="9.33" text-anchor="start" letter-spacing="-0.17">1.06205</text>
<rect x="1524" y="149" width="41" height="11" fill="#ff0000" shape-rendering="crispEdges"/>
<text x="1528.5" y="158" fill="#fff" font-size="9.33" text-anchor="start" letter-spacing="-0.17">1.13034</text>
<rect x="1524" y="205" width="41" height="11" fill="#ff0000" shape-rendering="crispEdges"/>
<text x="1528.5" y="214" fill="#fff" font-size="9.33" text-anchor="start" letter-spacing="-0.17">1.12004</text>
<rect x="1524" y="259" width="41" height="11" fill="#ff0000" shape-rendering="crispEdges"/>
<text x="1528.5" y="268" fill="#fff" font-size="9.33" text-anchor="start" letter-spacing="-0.17">1.11009</text>
<rect x="1524" y="314" width="41" height="11" fill="#ff0000" shape-rendering="crispEdges"/>
<text x="1528.5" y="323" fill="#fff" font-size="9.33" text-anchor="start" letter-spacing="-0.17">1.10008</text>
<rect x="1524" y="370" width="41" height="11" fill="#000" shape-rendering="crispEdges"/>
<text x="1528.5" y="379" fill="#fff" font-size="9.33" text-anchor="start" letter-spacing="-0.17">1.08979</text>
<rect x="1524" y="379" width="41" height="11" fill="#00ff00" shape-rendering="crispEdges"/>
<text x="1528.5" y="388" fill="#fff" font-size="9.33" text-anchor="start" letter-spacing="-0.17">1.08800</text>
<rect x="1524" y="440" width="41" height="11" fill="#0000ff" shape-rendering="crispEdges"/>
<text x="1528.5" y="449" fill="#fff" font-size="9.33" text-anchor="start" letter-spacing="-0.17">1.07697</text>
<rect x="1524" y="516" width="41" height="11" fill="#0000ff" shape-rendering="crispEdges"/>
<text x="1528.5" y="525" fill="#fff" font-size="9.33" text-anchor="start" letter-spacing="-0.17">1.06306</text>
<g shape-rendering="crispEdges">
<line x1="8" y1="560.5" x2="1522" y2="560.5" stroke="#c0c0c0" stroke-width="1" stroke-dasharray="3,3"/>
<line x1="8" y1="596.5" x2="1522" y2="596.5" stroke="#c0c0c0" stroke-width="1" stroke-dasharray="3,3"/>
</g>
<path d="M8.5,559v2M9.5,561v2M10.5,563v2M20.5,567v2M21.5,569v2M22.5,571v2M23.5,573v2M24.5,575v2M25.5,577v2M26.5,579v2M37.5,580v2M43.5,579v2M44.5,577v2M45.5,575v2M46.5,573v2M79.5,566v2M80.5,568v3M81.5,571v2M82.5,573v3M83.5,576v2M95.5,579v2M96.5,581v2M97.5,583v2M98.5,585v2M99.5,587v2M112.5,585v2M113.5,583v2M114.5,581v2M132.5,580v2M133.5,582v2M134.5,584v2M156.5,586v2M157.5,588v2M158.5,590v2M187.5,590v2M188.5,592v2M189.5,594v2M190.5,596v2M191.5,597v2M192.5,595v2M193.5,592v3M194.5,590v2M195.5,588v2M199.5,588v2M200.5,585v3M201.5,581v4M202.5,578v3M203.5,576v2M229.5,577v2M263.5,588v2M264.5,586v2M265.5,583v3M266.5,581v2M267.5,579v2M273.5,581v2M288.5,592v2M290.5,595v2M303.5,598v2M304.5,595v3M305.5,592v3M306.5,589v3M307.5,587v2M321.5,583v2M329.5,585v2M331.5,587v2M332.5,584v3M333.5,582v2M334.5,579v3M335.5,577v2M344.5,580v2M345.5,582v2M346.5,584v2M347.5,585v2M348.5,583v2M349.5,581v2M350.5,579v2M376.5,585v2M378.5,588v2M397.5,591v2M404.5,584v2M406.5,581v2M421.5,582v2M424.5,583v2M426.5,580v2M448.5,572v2M450.5,569v2M453.5,565v2M515.5,567v2M516.5,569v4M517.5,573v3M518.5,576v4M519.5,580v2M551.5,588v2M552.5,586v2M553.5,584v2M554.5,582v2M555.5,580v2M576.5,577v2M577.5,579v2M578.5,581v2M601.5,583v2M607.5,583v2M608.5,580v3M609.5,578v2M610.5,575v3M611.5,573v2M623.5,570v2M624.5,572v2M625.5,574v2M626.5,576v2M645.5,570v2M664.5,565v2M665.5,567v2M666.5,569v2M673.5,575v2M695.5,574v2M696.5,572v2M697.5,570v2M698.5,568v2M699.5,566v2M719.5,564v2M720.5,566v2M721.5,568v2M722.5,570v2M723.5,572v2M731.5,569v2M732.5,571v2M733.5,573v2M734.5,575v2M735.5,577v2M760.5,578v2M762.5,575v2M768.5,578v2M769.5,580v2M770.5,582v2M811.5,594v2M812.5,592v2M813.5,590v2M814.5,588v2M815.5,585v3M816.5,583v2M817.5,581v2M818.5,579v2M824.5,577v2M825.5,579v2M826.5,581v2M887.5,603v2M888.5,600v3M889.5,597v3M890.5,594v3M891.5,592v2M907.5,586v3M908.5,581v5M909.5,577v4M910.5,572v5M911.5,569v3M917.5,566v2M919.5,563v2M920.5,561v2M921.5,559v2M922.5,557v2M928.5,555v2M930.5,558v2M937.5,554v2M947.5,548v2M948.5,550v2M949.5,552v3M950.5,555v2M951.5,557v2M952.5,559v2M954.5,562v2M955.5,564v2M956.5,566v4M957.5,570v4M958.5,574v4M959.5,578v2M971.5,575v2M972.5,577v2M973.5,579v3M974.5,582v2M975.5,584v2M976.5,586v2M978.5,589v2M991.5,596v2M992.5,594v2M993.5,592v2M994.5,590v2M1003.5,584v2M1004.5,582v2M1005.5,579v3M1006.5,577v2M1007.5,575v2M1017.5,573v2M1045.5,583v2M1053.5,579v2M1077.5,581v2M1124.5,578v2M1125.5,576v2M1126.5,574v2M1129.5,570v2M1136.5,572v2M1138.5,575v2M1141.5,579v2M1153.5,581v2M1183.5,582v2M1184.5,580v2M1185.5,578v2M1186.5,576v2M1187.5,574v2M1201.5,574v2M946,549.5h1M944,550.5h2M942,551.5h2M939,552.5h3M938,553.5h1M927,554.5h1M925,555.5h2M923,556.5h2M936,556.5h1M929,557.5h1M935,557.5h1M7,558.5h1M934,558.5h1M711,559.5h2M932,559.5h2M462,560.5h2M710,560.5h1M713,560.5h2M931,560.5h1M459,561.5h3M464,561.5h2M708,561.5h2M715,561.5h1M953,561.5h1M457,562.5h2M466,562.5h1M707,562.5h1M716,562.5h2M58,563.5h4M66,563.5h2M455,563.5h2M467,563.5h2M507,563.5h2M705,563.5h2M718,563.5h1M14,564.5h3M55,564.5h3M62,564.5h4M68,564.5h1M454,564.5h1M469,564.5h2M505,564.5h2M509,564.5h2M663,564.5h1M703,564.5h2M11,565.5h3M17,565.5h2M54,565.5h1M69,565.5h1M471,565.5h1M503,565.5h2M511,565.5h2M651,565.5h1M662,565.5h1M701,565.5h2M918,565.5h1M19,566.5h1M53,566.5h1M70,566.5h1M74,566.5h5M472,566.5h1M502,566.5h1M513,566.5h2M650,566.5h1M652,566.5h1M660,566.5h2M700,566.5h1M52,567.5h1M71,567.5h3M452,567.5h1M473,567.5h1M501,567.5h1M648,567.5h2M653,567.5h1M659,567.5h1M51,568.5h1M451,568.5h1M474,568.5h1M500,568.5h1M647,568.5h1M654,568.5h1M657,568.5h2M916,568.5h1M1131,568.5h1M50,569.5h1M475,569.5h1M498,569.5h2M646,569.5h1M655,569.5h2M912,569.5h4M1130,569.5h1M1132,569.5h2M1195,569.5h1M49,570.5h1M476,570.5h2M495,570.5h3M622,570.5h1M730,570.5h1M1134,570.5h1M1194,570.5h1M1196,570.5h2M48,571.5h1M449,571.5h1M478,571.5h1M494,571.5h1M618,571.5h4M639,571.5h2M667,571.5h2M728,571.5h2M1015,571.5h1M1135,571.5h1M1192,571.5h2M1198,571.5h1M47,572.5h1M211,572.5h1M435,572.5h5M479,572.5h1M492,572.5h2M614,572.5h4M638,572.5h1M641,572.5h2M644,572.5h1M669,572.5h2M726,572.5h2M1013,572.5h2M1016,572.5h1M1128,572.5h1M1191,572.5h1M1199,572.5h1M210,573.5h1M212,573.5h1M434,573.5h1M440,573.5h2M480,573.5h2M491,573.5h1M612,573.5h2M637,573.5h1M643,573.5h1M671,573.5h1M724,573.5h2M1011,573.5h2M1127,573.5h1M1189,573.5h2M1200,573.5h1M209,574.5h1M213,574.5h1M219,574.5h2M432,574.5h2M442,574.5h1M446,574.5h2M482,574.5h1M490,574.5h1M636,574.5h1M672,574.5h1M763,574.5h1M1009,574.5h2M1137,574.5h1M1188,574.5h1M208,575.5h1M214,575.5h1M217,575.5h2M221,575.5h2M226,575.5h2M431,575.5h1M443,575.5h3M483,575.5h3M488,575.5h2M563,575.5h3M635,575.5h1M764,575.5h2M1008,575.5h1M1018,575.5h1M204,576.5h4M215,576.5h2M223,576.5h3M228,576.5h1M430,576.5h1M486,576.5h2M562,576.5h1M566,576.5h2M575,576.5h1M634,576.5h1M694,576.5h1M766,576.5h1M823,576.5h1M970,576.5h1M1019,576.5h3M1071,576.5h1M1202,576.5h1M1206,576.5h4M84,577.5h2M336,577.5h5M429,577.5h1M561,577.5h1M568,577.5h2M574,577.5h1M632,577.5h2M674,577.5h1M686,577.5h3M693,577.5h1M761,577.5h1M767,577.5h1M821,577.5h2M969,577.5h1M1022,577.5h2M1055,577.5h7M1070,577.5h1M1072,577.5h2M1139,577.5h1M1203,577.5h3M1210,577.5h2M35,578.5h1M86,578.5h2M127,578.5h3M341,578.5h2M351,578.5h3M428,578.5h1M560,578.5h1M570,578.5h1M572,578.5h2M627,578.5h5M675,578.5h1M683,578.5h3M689,578.5h2M692,578.5h1M755,578.5h2M819,578.5h2M968,578.5h1M1024,578.5h2M1054,578.5h1M1062,578.5h3M1069,578.5h1M1074,578.5h1M1140,578.5h1M34,579.5h1M36,579.5h1M88,579.5h2M126,579.5h1M130,579.5h2M230,579.5h1M268,579.5h4M343,579.5h1M354,579.5h4M427,579.5h1M558,579.5h2M571,579.5h1M676,579.5h2M682,579.5h1M691,579.5h1M736,579.5h2M753,579.5h2M757,579.5h2M960,579.5h2M966,579.5h2M1026,579.5h1M1065,579.5h2M1068,579.5h1M1075,579.5h1M1155,579.5h2M1167,579.5h2M33,580.5h1M90,580.5h1M93,580.5h2M115,580.5h7M124,580.5h2M231,580.5h1M272,580.5h1M358,580.5h2M407,580.5h2M415,580.5h5M556,580.5h2M678,580.5h1M680,580.5h2M738,580.5h1M750,580.5h3M759,580.5h1M962,580.5h4M1027,580.5h1M1067,580.5h1M1076,580.5h1M1123,580.5h1M1154,580.5h1M1157,580.5h2M1166,580.5h1M1169,580.5h2M27,581.5h3M32,581.5h1M42,581.5h1M91,581.5h2M122,581.5h2M232,581.5h1M323,581.5h2M360,581.5h1M409,581.5h2M413,581.5h2M420,581.5h1M520,581.5h4M603,581.5h1M679,581.5h1M739,581.5h2M747,581.5h3M1028,581.5h1M1047,581.5h3M1052,581.5h1M1083,581.5h3M1090,581.5h3M1121,581.5h2M1142,581.5h1M1159,581.5h2M1165,581.5h1M1171,581.5h1M30,582.5h2M38,582.5h1M40,582.5h2M139,582.5h3M233,582.5h1M322,582.5h1M325,582.5h2M361,582.5h1M411,582.5h2M425,582.5h1M524,582.5h1M602,582.5h1M604,582.5h2M741,582.5h2M745,582.5h2M1029,582.5h1M1046,582.5h1M1050,582.5h2M1082,582.5h1M1086,582.5h4M1093,582.5h2M1118,582.5h3M1143,582.5h1M1161,582.5h2M1164,582.5h1M1172,582.5h2M1179,582.5h3M39,583.5h1M138,583.5h1M142,583.5h4M234,583.5h1M274,583.5h1M327,583.5h1M362,583.5h1M405,583.5h1M525,583.5h1M579,583.5h3M606,583.5h1M743,583.5h2M783,583.5h1M827,583.5h2M1030,583.5h1M1078,583.5h1M1080,583.5h2M1095,583.5h3M1115,583.5h3M1144,583.5h2M1152,583.5h1M1163,583.5h1M1174,583.5h1M1177,583.5h2M1182,583.5h1M137,584.5h1M146,584.5h8M235,584.5h1M275,584.5h2M314,584.5h3M328,584.5h1M363,584.5h5M375,584.5h1M422,584.5h1M526,584.5h1M582,584.5h3M771,584.5h3M782,584.5h1M784,584.5h2M829,584.5h2M1031,584.5h2M1079,584.5h1M1098,584.5h4M1114,584.5h1M1146,584.5h1M1150,584.5h2M1175,584.5h2M136,585.5h1M154,585.5h2M236,585.5h1M277,585.5h2M311,585.5h3M317,585.5h2M320,585.5h1M368,585.5h2M374,585.5h1M423,585.5h1M527,585.5h1M539,585.5h1M585,585.5h2M600,585.5h1M774,585.5h4M780,585.5h2M786,585.5h1M831,585.5h1M1033,585.5h2M1044,585.5h1M1102,585.5h4M1112,585.5h2M1147,585.5h3M103,586.5h2M135,586.5h1M237,586.5h1M279,586.5h3M309,586.5h2M319,586.5h1M370,586.5h1M372,586.5h2M403,586.5h1M528,586.5h2M538,586.5h1M540,586.5h2M587,586.5h6M599,586.5h1M778,586.5h2M787,586.5h1M832,586.5h1M1001,586.5h2M1035,586.5h9M1106,586.5h6M101,587.5h2M105,587.5h2M110,587.5h2M238,587.5h1M282,587.5h2M308,587.5h1M330,587.5h1M371,587.5h1M377,587.5h1M402,587.5h1M530,587.5h1M536,587.5h2M542,587.5h1M593,587.5h2M597,587.5h2M788,587.5h1M833,587.5h1M999,587.5h2M100,588.5h1M107,588.5h3M196,588.5h2M239,588.5h2M247,588.5h7M258,588.5h4M284,588.5h1M400,588.5h2M531,588.5h5M543,588.5h3M595,588.5h2M789,588.5h1M834,588.5h1M906,588.5h1M977,588.5h1M997,588.5h2M179,589.5h7M198,589.5h1M241,589.5h2M245,589.5h2M254,589.5h4M262,589.5h1M285,589.5h1M399,589.5h1M546,589.5h5M790,589.5h1M835,589.5h1M902,589.5h4M995,589.5h2M178,590.5h1M186,590.5h1M243,590.5h2M286,590.5h1M379,590.5h3M398,590.5h1M791,590.5h1M836,590.5h2M895,590.5h7M167,591.5h1M177,591.5h1M287,591.5h1M382,591.5h10M792,591.5h2M799,591.5h2M838,591.5h1M893,591.5h2M979,591.5h1M159,592.5h2M166,592.5h1M168,592.5h2M176,592.5h1M392,592.5h2M794,592.5h1M797,592.5h2M801,592.5h2M839,592.5h3M892,592.5h1M980,592.5h1M161,593.5h2M164,593.5h2M170,593.5h1M174,593.5h2M394,593.5h1M396,593.5h1M795,593.5h2M803,593.5h3M842,593.5h3M981,593.5h1M163,594.5h1M171,594.5h3M289,594.5h1M395,594.5h1M806,594.5h4M845,594.5h2M982,594.5h1M810,595.5h1M847,595.5h2M983,595.5h3M849,596.5h2M986,596.5h4M291,597.5h3M851,597.5h3M990,597.5h1M294,598.5h4M854,598.5h3M298,599.5h5M857,599.5h2M859,600.5h1M860,601.5h2M862,602.5h1M863,603.5h3M866,604.5h8M874,605.5h7M886,605.5h1M881,606.5h2M884,606.5h2M883,607.5h1" fill="none" stroke="#1e90ff" stroke-width="1" shape-rendering="crispEdges"/>
<text x="11" y="544.1" fill="#000" font-size="9.33" text-anchor="start" >RSI(14) 51.8820</text>
<text x="1526.5" y="543" fill="#000" font-size="9.33" text-anchor="start" >100</text>
<rect x="1523" y="560" width="2" height="1" fill="#000" />
<text x="1526.5" y="564" fill="#000" font-size="9.33" text-anchor="start" >70</text>
<rect x="1523" y="596" width="2" height="1" fill="#000" />
<text x="1526.5" y="600" fill="#000" font-size="9.33" text-anchor="start" >30</text>
<text x="1526.5" y="621" fill="#000" font-size="9.33" text-anchor="start" >0</text>
<rect x="1523" y="534" width="1" height="1" fill="#000" />
<rect x="1523" y="623" width="1" height="1" fill="#000" />
<g shape-rendering="crispEdges">
<rect x="7" y="668" width="1" height="11" fill="#c0c0c0" />
<rect x="11" y="667" width="1" height="12" fill="#c0c0c0" />
<rect x="15" y="665" width="1" height="14" fill="#c0c0c0" />
<rect x="19" y="665" width="1" height="14" fill="#c0c0c0" />
<rect x="23" y="666" width="1" height="13" fill="#c0c0c0" />
<rect x="27" y="669" width="1" height="10" fill="#c0c0c0" />
<rect x="31" y="672" width="1" height="7" fill="#c0c0c0" />
<rect x="35" y="673" width="1" height="6" fill="#c0c0c0" />
<rect x="39" y="675" width="1" height="4" fill="#c0c0c0" />
<rect x="43" y="677" width="1" height="2" fill="#c0c0c0" />
<rect x="47" y="675" width="1" height="4" fill="#c0c0c0" />
<rect x="51" y="672" width="1" height="7" fill="#c0c0c0" />
<rect x="55" y="669" width="1" height="10" fill="#c0c0c0" />
<rect x="59" y="665" width="1" height="14" fill="#c0c0c0" />
<rect x="63" y="663" width="1" height="16" fill="#c0c0c0" />
<rect x="67" y="661" width="1" height="18" fill="#c0c0c0" />
<rect x="71" y="661" width="1" height="18" fill="#c0c0c0" />
<rect x="75" y="661" width="1" height="18" fill="#c0c0c0" />
<rect x="79" y="660" width="1" height="19" fill="#c0c0c0" />
<rect x="83" y="663" width="1" height="16" fill="#c0c0c0" />
<rect x="87" y="666" width="1" height="13" fill="#c0c0c0" />
<rect x="91" y="669" width="1" height="10" fill="#c0c0c0" />
<rect x="95" y="671" width="1" height="8" fill="#c0c0c0" />
<rect x="99" y="675" width="1" height="4" fill="#c0c0c0" />
<rect x="103" y="678" width="1" height="1" fill="#c0c0c0" />
<rect x="107" y="678" width="1" height="2" fill="#c0c0c0" />
<rect x="111" y="678" width="1" height="4" fill="#c0c0c0" />
<rect x="115" y="678" width="1" height="4" fill="#c0c0c0" />
<rect x="119" y="678" width="1" height="4" fill="#c0c0c0" />
<rect x="123" y="678" width="1" height="4" fill="#c0c0c0" />
<rect x="127" y="678" width="1" height="3" fill="#c0c0c0" />
<rect x="131" y="678" width="1" height="3" fill="#c0c0c0" />
<rect x="135" y="678" width="1" height="5" fill="#c0c0c0" />
<rect x="139" y="678" width="1" height="5" fill="#c0c0c0" />
<rect x="143" y="678" width="1" height="6" fill="#c0c0c0" />
<rect x="147" y="678" width="1" height="6" fill="#c0c0c0" />
<rect x="151" y="678" width="1" height="7" fill="#c0c0c0" />
<rect x="155" y="678" width="1" height="7" fill="#c0c0c0" />
<rect x="159" y="678" width="1" height="10" fill="#c0c0c0" />
<rect x="163" y="678" width="1" height="12" fill="#c0c0c0" />
<rect x="167" y="678" width="1" height="13" fill="#c0c0c0" />
<rect x="171" y="678" width="1" height="15" fill="#c0c0c0" />
<rect x="175" y="678" width="1" height="16" fill="#c0c0c0" />
<rect x="179" y="678" width="1" height="16" fill="#c0c0c0" />
<rect x="183" y="678" width="1" height="16" fill="#c0c0c0" />
<rect x="187" y="678" width="1" height="16" fill="#c0c0c0" />
<rect x="191" y="678" width="1" height="18" fill="#c0c0c0" />
<rect x="195" y="678" width="1" height="18" fill="#c0c0c0" />
<rect x="199" y="678" width="1" height="18" fill="#c0c0c0" />
<rect x="203" y="678" width="1" height="15" fill="#c0c0c0" />
<rect x="207" y="678" width="1" height="12" fill="#c0c0c0" />
<rect x="211" y="678" width="1" height="8" fill="#c0c0c0" />
<rect x="215" y="678" width="1" height="6" fill="#c0c0c0" />
<rect x="219" y="678" width="1" height="4" fill="#c0c0c0" />
<rect x="223" y="678" width="1" height="3" fill="#c0c0c0" />
<rect x="227" y="678" width="1" height="2" fill="#c0c0c0" />
<rect x="231" y="678" width="1" height="2" fill="#c0c0c0" />
<rect x="235" y="678" width="1" height="3" fill="#c0c0c0" />
<rect x="239" y="678" width="1" height="6" fill="#c0c0c0" />
<rect x="243" y="678" width="1" height="8" fill="#c0c0c0" />
<rect x="247" y="678" width="1" height="10" fill="#c0c0c0" />
<rect x="251" y="678" width="1" height="11" fill="#c0c0c0" />
<rect x="255" y="678" width="1" height="12" fill="#c0c0c0" />
<rect x="259" y="678" width="1" height="12" fill="#c0c0c0" />
<rect x="263" y="678" width="1" height="13" fill="#c0c0c0" />
<rect x="267" y="678" width="1" height="11" fill="#c0c0c0" />
<rect x="271" y="678" width="1" height="9" fill="#c0c0c0" />
<rect x="275" y="678" width="1" height="9" fill="#c0c0c0" />
<rect x="279" y="678" width="1" height="10" fill="#c0c0c0" />
<rect x="283" y="678" width="1" height="10" fill="#c0c0c0" />
<rect x="287" y="678" width="1" height="12" fill="#c0c0c0" />
<rect x="291" y="678" width="1" height="15" fill="#c0c0c0" />
<rect x="295" y="678" width="1" height="18" fill="#c0c0c0" />
<rect x="299" y="678" width="1" height="20" fill="#c0c0c0" />
<rect x="303" y="678" width="1" height="22" fill="#c0c0c0" />
<rect x="307" y="678" width="1" height="21" fill="#c0c0c0" />
<rect x="311" y="678" width="1" height="19" fill="#c0c0c0" />
<rect x="315" y="678" width="1" height="18" fill="#c0c0c0" />
<rect x="319" y="678" width="1" height="17" fill="#c0c0c0" />
<rect x="323" y="678" width="1" height="15" fill="#c0c0c0" />
<rect x="327" y="678" width="1" height="14" fill="#c0c0c0" />
<rect x="331" y="678" width="1" height="14" fill="#c0c0c0" />
<rect x="335" y="678" width="1" height="11" fill="#c0c0c0" />
<rect x="339" y="678" width="1" height="9" fill="#c0c0c0" />
<rect x="343" y="678" width="1" height="8" fill="#c0c0c0" />
<rect x="347" y="678" width="1" height="9" fill="#c0c0c0" />
<rect x="351" y="678" width="1" height="8" fill="#c0c0c0" />
<rect x="355" y="678" width="1" height="7" fill="#c0c0c0" />
<rect x="359" y="678" width="1" height="6" fill="#c0c0c0" />
<rect x="363" y="678" width="1" height="7" fill="#c0c0c0" />
<rect x="367" y="678" width="1" height="7" fill="#c0c0c0" />
<rect x="371" y="678" width="1" height="8" fill="#c0c0c0" />
<rect x="375" y="678" width="1" height="9" fill="#c0c0c0" />
<rect x="379" y="678" width="1" height="11" fill="#c0c0c0" />
<rect x="383" y="678" width="1" height="13" fill="#c0c0c0" />
<rect x="387" y="678" width="1" height="14" fill="#c0c0c0" />
<rect x="391" y="678" width="1" height="15" fill="#c0c0c0" />
<rect x="395" y="678" width="1" height="17" fill="#c0c0c0" />
<rect x="399" y="678" width="1" height="17" fill="#c0c0c0" />
<rect x="403" y="678" width="1" height="16" fill="#c0c0c0" />
<rect x="407" y="678" width="1" height="14" fill="#c0c0c0" />
<rect x="411" y="678" width="1" height="13" fill="#c0c0c0" />
<rect x="415" y="678" width="1" height="11" fill="#c0c0c0" />
<rect x="419" y="678" width="1" height="10" fill="#c0c0c0" />
<rect x="423" y="678" width="1" height="10" fill="#c0c0c0" />
<rect x="427" y="678" width="1" height="9" fill="#c0c0c0" />
<rect x="431" y="678" width="1" height="7" fill="#c0c0c0" />
<rect x="435" y="678" width="1" height="4" fill="#c0c0c0" />
<rect x="439" y="678" width="1" height="2" fill="#c0c0c0" />
<rect x="443" y="678" width="1" height="1" fill="#c0c0c0" />
<rect x="447" y="678" width="1" height="1" fill="#c0c0c0" />
<rect x="451" y="676" width="1" height="3" fill="#c0c0c0" />
<rect x="455" y="672" width="1" height="7" fill="#c0c0c0" />
<rect x="459" y="668" width="1" height="11" fill="#c0c0c0" />
<rect x="463" y="665" width="1" height="14" fill="#c0c0c0" />
<rect x="467" y="663" width="1" height="16" fill="#c0c0c0" />
<rect x="471" y="663" width="1" height="16" fill="#c0c0c0" />
<rect x="475" y="663" width="1" height="16" fill="#c0c0c0" />
<rect x="479" y="664" width="1" height="15" fill="#c0c0c0" />
<rect x="483" y="665" width="1" height="14" fill="#c0c0c0" />
<rect x="487" y="667" width="1" height="12" fill="#c0c0c0" />
<rect x="491" y="668" width="1" height="11" fill="#c0c0c0" />
<rect x="495" y="668" width="1" height="11" fill="#c0c0c0" />
<rect x="499" y="667" width="1" height="12" fill="#c0c0c0" />
<rect x="503" y="666" width="1" height="13" fill="#c0c0c0" />
<rect x="507" y="665" width="1" height="14" fill="#c0c0c0" />
<rect x="511" y="664" width="1" height="15" fill="#c0c0c0" />
<rect x="515" y="664" width="1" height="15" fill="#c0c0c0" />
<rect x="519" y="668" width="1" height="11" fill="#c0c0c0" />
<rect x="523" y="670" width="1" height="9" fill="#c0c0c0" />
<rect x="527" y="673" width="1" height="6" fill="#c0c0c0" />
<rect x="531" y="677" width="1" height="2" fill="#c0c0c0" />
<rect x="535" y="678" width="1" height="1" fill="#c0c0c0" />
<rect x="539" y="678" width="1" height="2" fill="#c0c0c0" />
<rect x="543" y="678" width="1" height="4" fill="#c0c0c0" />
<rect x="547" y="678" width="1" height="5" fill="#c0c0c0" />
<rect x="551" y="678" width="1" height="7" fill="#c0c0c0" />
<rect x="555" y="678" width="1" height="6" fill="#c0c0c0" />
<rect x="559" y="678" width="1" height="6" fill="#c0c0c0" />
<rect x="563" y="678" width="1" height="4" fill="#c0c0c0" />
<rect x="567" y="678" width="1" height="3" fill="#c0c0c0" />
<rect x="571" y="678" width="1" height="2" fill="#c0c0c0" />
<rect x="575" y="678" width="1" height="2" fill="#c0c0c0" />
<rect x="579" y="678" width="1" height="3" fill="#c0c0c0" />
<rect x="583" y="678" width="1" height="3" fill="#c0c0c0" />
<rect x="587" y="678" width="1" height="5" fill="#c0c0c0" />
<rect x="591" y="678" width="1" height="6" fill="#c0c0c0" />
<rect x="595" y="678" width="1" height="7" fill="#c0c0c0" />
<rect x="599" y="678" width="1" height="7" fill="#c0c0c0" />
<rect x="603" y="678" width="1" height="7" fill="#c0c0c0" />
<rect x="607" y="678" width="1" height="7" fill="#c0c0c0" />
<rect x="611" y="678" width="1" height="5" fill="#c0c0c0" />
<rect x="615" y="678" width="1" height="2" fill="#c0c0c0" />
<rect x="619" y="678" width="1" height="1" fill="#c0c0c0" />
<rect x="623" y="678" width="1" height="1" fill="#c0c0c0" />
<rect x="627" y="678" width="1" height="1" fill="#c0c0c0" />
<rect x="631" y="678" width="1" height="1" fill="#c0c0c0" />
<rect x="635" y="678" width="1" height="1" fill="#c0c0c0" />
<rect x="639" y="677" width="1" height="2" fill="#c0c0c0" />
<rect x="643" y="676" width="1" height="3" fill="#c0c0c0" />
<rect x="647" y="675" width="1" height="4" fill="#c0c0c0" />
<rect x="651" y="673" width="1" height="6" fill="#c0c0c0" />
<rect x="655" y="672" width="1" height="7" fill="#c0c0c0" />
<rect x="659" y="671" width="1" height="8" fill="#c0c0c0" />
<rect x="663" y="669" width="1" height="10" fill="#c0c0c0" />
<rect x="667" y="669" width="1" height="10" fill="#c0c0c0" />
<rect x="671" y="670" width="1" height="9" fill="#c0c0c0" />
<rect x="675" y="671" width="1" height="8" fill="#c0c0c0" />
<rect x="679" y="673" width="1" height="6" fill="#c0c0c0" />
<rect x="683" y="674" width="1" height="5" fill="#c0c0c0" />
<rect x="687" y="675" width="1" height="4" fill="#c0c0c0" />
<rect x="691" y="675" width="1" height="4" fill="#c0c0c0" />
<rect x="695" y="675" width="1" height="4" fill="#c0c0c0" />
<rect x="699" y="673" width="1" height="6" fill="#c0c0c0" />
<rect x="703" y="671" width="1" height="8" fill="#c0c0c0" />
<rect x="707" y="669" width="1" height="10" fill="#c0c0c0" />
<rect x="711" y="666" width="1" height="13" fill="#c0c0c0" />
<rect x="715" y="664" width="1" height="15" fill="#c0c0c0" />
<rect x="719" y="664" width="1" height="15" fill="#c0c0c0" />
<rect x="723" y="665" width="1" height="14" fill="#c0c0c0" />
<rect x="727" y="666" width="1" height="13" fill="#c0c0c0" />
<rect x="731" y="666" width="1" height="13" fill="#c0c0c0" />
<rect x="735" y="668" width="1" height="11" fill="#c0c0c0" />
<rect x="739" y="670" width="1" height="9" fill="#c0c0c0" />
<rect x="743" y="673" width="1" height="6" fill="#c0c0c0" />
<rect x="747" y="675" width="1" height="4" fill="#c0c0c0" />
<rect x="751" y="676" width="1" height="3" fill="#c0c0c0" />
<rect x="755" y="676" width="1" height="3" fill="#c0c0c0" />
<rect x="759" y="677" width="1" height="2" fill="#c0c0c0" />
<rect x="763" y="677" width="1" height="2" fill="#c0c0c0" />
<rect x="767" y="677" width="1" height="2" fill="#c0c0c0" />
<rect x="771" y="678" width="1" height="1" fill="#c0c0c0" />
<rect x="775" y="678" width="1" height="1" fill="#c0c0c0" />
<rect x="779" y="678" width="1" height="2" fill="#c0c0c0" />
<rect x="783" y="678" width="1" height="3" fill="#c0c0c0" />
<rect x="787" y="678" width="1" height="4" fill="#c0c0c0" />
<rect x="791" y="678" width="1" height="6" fill="#c0c0c0" />
<rect x="795" y="678" width="1" height="8" fill="#c0c0c0" />
<rect x="799" y="678" width="1" height="10" fill="#c0c0c0" />
<rect x="803" y="678" width="1" height="12" fill="#c0c0c0" />
<rect x="807" y="678" width="1" height="13" fill="#c0c0c0" />
<rect x="811" y="678" width="1" height="14" fill="#c0c0c0" />
<rect x="815" y="678" width="1" height="14" fill="#c0c0c0" />
<rect x="819" y="678" width="1" height="11" fill="#c0c0c0" />
<rect x="823" y="678" width="1" height="9" fill="#c0c0c0" />
<rect x="827" y="678" width="1" height="9" fill="#c0c0c0" />
<rect x="831" y="678" width="1" height="9" fill="#c0c0c0" />
<rect x="835" y="678" width="1" height="10" fill="#c0c0c0" />
<rect x="839" y="678" width="1" height="12" fill="#c0c0c0" />
<rect x="843" y="678" width="1" height="14" fill="#c0c0c0" />
<rect x="847" y="678" width="1" height="15" fill="#c0c0c0" />
<rect x="851" y="678" width="1" height="17" fill="#c0c0c0" />
<rect x="855" y="678" width="1" height="19" fill="#c0c0c0" />
<rect x="859" y="678" width="1" height="21" fill="#c0c0c0" />
<rect x="863" y="678" width="1" height="24" fill="#c0c0c0" />
<rect x="867" y="678" width="1" height="26" fill="#c0c0c0" />
<rect x="871" y="678" width="1" height="28" fill="#c0c0c0" />
<rect x="875" y="678" width="1" height="29" fill="#c0c0c0" />
<rect x="879" y="678" width="1" height="30" fill="#c0c0c0" />
<rect x="883" y="678" width="1" height="31" fill="#c0c0c0" />
<rect x="887" y="678" width="1" height="31" fill="#c0c0c0" />
<rect x="891" y="678" width="1" height="30" fill="#c0c0c0" />
<rect x="895" y="678" width="1" height="28" fill="#c0c0c0" />
<rect x="899" y="678" width="1" height="26" fill="#c0c0c0" />
<rect x="903" y="678" width="1" height="24" fill="#c0c0c0" />
<rect x="907" y="678" width="1" height="22" fill="#c0c0c0" />
<rect x="911" y="678" width="1" height="16" fill="#c0c0c0" />
<rect x="915" y="678" width="1" height="11" fill="#c0c0c0" />
<rect x="919" y="678" width="1" height="6" fill="#c0c0c0" />
<rect x="923" y="676" width="1" height="3" fill="#c0c0c0" />
<rect x="927" y="669" width="1" height="10" fill="#c0c0c0" />
<rect x="931" y="664" width="1" height="15" fill="#c0c0c0" />
<rect x="935" y="659" width="1" height="20" fill="#c0c0c0" />
<rect x="939" y="650" width="1" height="29" fill="#c0c0c0" />
<rect x="943" y="644" width="1" height="35" fill="#c0c0c0" />
<rect x="947" y="636" width="1" height="43" fill="#c0c0c0" />
<rect x="951" y="633" width="1" height="46" fill="#c0c0c0" />
<rect x="955" y="633" width="1" height="46" fill="#c0c0c0" />
<rect x="959" y="641" width="1" height="38" fill="#c0c0c0" />
<rect x="963" y="648" width="1" height="31" fill="#c0c0c0" />
<rect x="967" y="653" width="1" height="26" fill="#c0c0c0" />
<rect x="971" y="656" width="1" height="23" fill="#c0c0c0" />
<rect x="975" y="664" width="1" height="15" fill="#c0c0c0" />
<rect x="979" y="675" width="1" height="4" fill="#c0c0c0" />
<rect x="983" y="678" width="1" height="10" fill="#c0c0c0" />
<rect x="987" y="678" width="1" height="21" fill="#c0c0c0" />
<rect x="991" y="678" width="1" height="31" fill="#c0c0c0" />
<rect x="995" y="678" width="1" height="34" fill="#c0c0c0" />
<rect x="999" y="678" width="1" height="35" fill="#c0c0c0" />
<rect x="1003" y="678" width="1" height="34" fill="#c0c0c0" />
<rect x="1007" y="678" width="1" height="26" fill="#c0c0c0" />
<rect x="1011" y="678" width="1" height="19" fill="#c0c0c0" />
<rect x="1015" y="678" width="1" height="10" fill="#c0c0c0" />
<rect x="1019" y="678" width="1" height="7" fill="#c0c0c0" />
<rect x="1023" y="678" width="1" height="5" fill="#c0c0c0" />
<rect x="1027" y="678" width="1" height="6" fill="#c0c0c0" />
<rect x="1031" y="678" width="1" height="9" fill="#c0c0c0" />
<rect x="1035" y="678" width="1" height="14" fill="#c0c0c0" />
<rect x="1039" y="678" width="1" height="17" fill="#c0c0c0" />
<rect x="1043" y="678" width="1" height="19" fill="#c0c0c0" />
<rect x="1047" y="678" width="1" height="18" fill="#c0c0c0" />
<rect x="1051" y="678" width="1" height="18" fill="#c0c0c0" />
<rect x="1055" y="678" width="1" height="14" fill="#c0c0c0" />
<rect x="1059" y="678" width="1" height="11" fill="#c0c0c0" />
<rect x="1063" y="678" width="1" height="9" fill="#c0c0c0" />
<rect x="1067" y="678" width="1" height="9" fill="#c0c0c0" />
<rect x="1071" y="678" width="1" height="6" fill="#c0c0c0" />
<rect x="1075" y="678" width="1" height="5" fill="#c0c0c0" />
<rect x="1079" y="678" width="1" height="8" fill="#c0c0c0" />
<rect x="1083" y="678" width="1" height="8" fill="#c0c0c0" />
<rect x="1087" y="678" width="1" height="9" fill="#c0c0c0" />
<rect x="1091" y="678" width="1" height="9" fill="#c0c0c0" />
<rect x="1095" y="678" width="1" height="10" fill="#c0c0c0" />
<rect x="1099" y="678" width="1" height="11" fill="#c0c0c0" />
<rect x="1103" y="678" width="1" height="13" fill="#c0c0c0" />
<rect x="1107" y="678" width="1" height="14" fill="#c0c0c0" />
<rect x="1111" y="678" width="1" height="15" fill="#c0c0c0" />
<rect x="1115" y="678" width="1" height="15" fill="#c0c0c0" />
<rect x="1119" y="678" width="1" height="14" fill="#c0c0c0" />
<rect x="1123" y="678" width="1" height="13" fill="#c0c0c0" />
<rect x="1127" y="678" width="1" height="9" fill="#c0c0c0" />
<rect x="1131" y="678" width="1" height="3" fill="#c0c0c0" />
<rect x="1135" y="678" width="1" height="1" fill="#c0c0c0" />
<rect x="1139" y="678" width="1" height="1" fill="#c0c0c0" />
<rect x="1143" y="678" width="1" height="1" fill="#c0c0c0" />
<rect x="1147" y="678" width="1" height="4" fill="#c0c0c0" />
<rect x="1151" y="678" width="1" height="6" fill="#c0c0c0" />
<rect x="1155" y="678" width="1" height="5" fill="#c0c0c0" />
<rect x="1159" y="678" width="1" height="6" fill="#c0c0c0" />
<rect x="1163" y="678" width="1" height="7" fill="#c0c0c0" />
<rect x="1167" y="678" width="1" height="6" fill="#c0c0c0" />
<rect x="1171" y="678" width="1" height="6" fill="#c0c0c0" />
<rect x="1175" y="678" width="1" height="8" fill="#c0c0c0" />
<rect x="1179" y="678" width="1" height="8" fill="#c0c0c0" />
<rect x="1183" y="678" width="1" height="9" fill="#c0c0c0" />
<rect x="1187" y="678" width="1" height="6" fill="#c0c0c0" />
<rect x="1191" y="678" width="1" height="2" fill="#c0c0c0" />
<rect x="1195" y="677" width="1" height="2" fill="#c0c0c0" />
<rect x="1199" y="674" width="1" height="5" fill="#c0c0c0" />
<rect x="1203" y="675" width="1" height="4" fill="#c0c0c0" />
<rect x="1207" y="675" width="1" height="4" fill="#c0c0c0" />
<rect x="1211" y="675" width="1" height="4" fill="#c0c0c0" />
</g>
<path d="M936.5,679v2M940.5,673v2M944.5,667v2M983.5,653v2M986.5,659v2M989.5,665v2M992.5,671v2M995.5,677v2M998.5,683v2M1001.5,688v2M1005.5,694v2M972,642.5h1M966,643.5h3M973,643.5h2M961,645.5h2M960,646.5h1M978,646.5h1M979,647.5h1M980,648.5h1M956,649.5h1M955,650.5h1M954,651.5h1M982,652.5h1M952,655.5h1M951,656.5h1M950,657.5h1M985,658.5h1M948,661.5h1M86,662.5h2M91,662.5h3M947,662.5h1M85,663.5h1M97,663.5h1M946,663.5h1M79,664.5h3M98,664.5h2M487,664.5h3M493,664.5h3M499,664.5h3M505,664.5h1M988,664.5h1M483,665.5h1M506,665.5h2M511,665.5h3M517,665.5h3M734,665.5h2M739,665.5h3M75,666.5h1M103,666.5h2M481,666.5h2M523,666.5h3M529,666.5h1M733,666.5h1M745,666.5h1M31,667.5h3M37,667.5h1M73,667.5h2M105,667.5h1M530,667.5h2M727,667.5h3M746,667.5h2M26,668.5h2M38,668.5h2M477,668.5h1M535,668.5h2M722,668.5h2M751,668.5h3M25,669.5h1M43,669.5h3M49,669.5h1M67,669.5h3M109,669.5h1M475,669.5h2M537,669.5h1M721,669.5h1M943,669.5h1M21,670.5h1M50,670.5h2M62,670.5h2M110,670.5h1M674,670.5h2M679,670.5h3M685,670.5h3M715,670.5h3M757,670.5h2M991,670.5h1M19,671.5h2M55,671.5h3M61,671.5h1M111,671.5h1M471,671.5h1M541,671.5h2M673,671.5h1M691,671.5h3M697,671.5h1M710,671.5h2M759,671.5h1M469,672.5h2M543,672.5h1M667,672.5h3M698,672.5h2M703,672.5h3M709,672.5h1M763,672.5h3M15,673.5h1M115,673.5h2M662,673.5h2M769,673.5h1M14,674.5h1M117,674.5h1M465,674.5h1M547,674.5h1M661,674.5h1M770,674.5h2M13,675.5h1M463,675.5h2M548,675.5h2M655,675.5h3M775,675.5h3M939,675.5h1M121,676.5h2M650,676.5h2M781,676.5h1M994,676.5h1M9,677.5h1M123,677.5h1M649,677.5h1M782,677.5h2M7,678.5h2M459,678.5h1M553,678.5h2M643,678.5h3M787,678.5h3M127,679.5h3M457,679.5h2M555,679.5h1M638,679.5h2M793,679.5h1M1209,679.5h2M133,680.5h1M559,680.5h3M637,680.5h1M794,680.5h2M1208,680.5h1M134,681.5h2M453,681.5h1M565,681.5h1M590,681.5h2M626,681.5h2M631,681.5h3M799,681.5h2M935,681.5h1M1160,681.5h3M1166,681.5h3M1202,681.5h3M139,682.5h3M145,682.5h3M242,682.5h2M451,682.5h2M566,682.5h2M571,682.5h3M577,682.5h3M583,682.5h3M589,682.5h1M595,682.5h3M601,682.5h3M625,682.5h1M801,682.5h1M997,682.5h1M1154,682.5h3M1172,682.5h2M1198,682.5h1M151,683.5h3M157,683.5h1M241,683.5h1M247,683.5h3M253,683.5h1M607,683.5h3M613,683.5h3M619,683.5h3M805,683.5h1M1150,683.5h1M1174,683.5h1M1196,683.5h2M158,684.5h2M235,684.5h3M254,684.5h2M446,684.5h2M806,684.5h2M1148,684.5h2M1178,684.5h3M1190,684.5h3M163,685.5h3M259,685.5h3M373,685.5h3M445,685.5h1M932,685.5h1M1143,685.5h2M1184,685.5h3M169,686.5h1M230,686.5h2M265,686.5h1M367,686.5h3M379,686.5h3M385,686.5h1M441,686.5h1M811,686.5h3M931,686.5h1M1090,686.5h1M1094,686.5h3M1100,686.5h3M1142,686.5h1M170,687.5h2M229,687.5h1M266,687.5h2M361,687.5h3M386,687.5h2M439,687.5h2M817,687.5h1M930,687.5h1M1088,687.5h2M1106,687.5h3M1138,687.5h1M175,688.5h3M225,688.5h1M271,688.5h3M277,688.5h3M355,688.5h3M391,688.5h3M435,688.5h1M818,688.5h2M1082,688.5h3M1112,688.5h2M1136,688.5h2M181,689.5h1M223,689.5h2M283,689.5h3M289,689.5h3M351,689.5h1M397,689.5h1M433,689.5h2M823,689.5h3M829,689.5h3M835,689.5h3M841,689.5h3M847,689.5h3M1046,689.5h3M1078,689.5h1M1114,689.5h1M182,690.5h2M295,690.5h3M349,690.5h2M398,690.5h2M853,690.5h3M1002,690.5h1M1040,690.5h3M1052,690.5h2M1076,690.5h2M1118,690.5h3M1124,690.5h3M1130,690.5h3M187,691.5h3M218,691.5h2M301,691.5h2M403,691.5h3M427,691.5h3M927,691.5h1M1054,691.5h1M1070,691.5h3M193,692.5h1M217,692.5h1M303,692.5h1M343,692.5h3M409,692.5h3M415,692.5h3M421,692.5h3M859,692.5h3M926,692.5h1M1035,692.5h2M1058,692.5h3M1064,692.5h3M194,693.5h2M211,693.5h3M307,693.5h3M338,693.5h2M925,693.5h1M1034,693.5h1M199,694.5h3M205,694.5h3M313,694.5h1M337,694.5h1M865,694.5h2M314,695.5h2M331,695.5h3M867,695.5h1M319,696.5h3M325,696.5h3M1006,696.5h1M1030,696.5h1M871,697.5h2M921,697.5h1M1028,697.5h2M873,698.5h1M920,698.5h1M919,699.5h1M877,700.5h2M1010,700.5h1M1023,700.5h2M879,701.5h1M1011,701.5h2M1022,701.5h1M915,702.5h1M1018,702.5h1M883,703.5h3M913,703.5h2M1016,703.5h2M889,704.5h1M890,705.5h2M909,705.5h1M895,706.5h3M901,706.5h3M907,706.5h2" fill="none" stroke="#ff0000" stroke-width="1" shape-rendering="crispEdges"/>
<text x="11" y="638.6" fill="#000" font-size="9.33" text-anchor="start" >MACD(12,26,9) 0.000991 -0.000100</text>
<text x="1526" y="637" fill="#000" font-size="9.33" text-anchor="start" >0.011277</text>
<rect x="1523" y="678" width="2" height="1" fill="#000" />
<text x="1526" y="682" fill="#000" font-size="9.33" text-anchor="start" >0.00</text>
<text x="1526" y="715" fill="#000" font-size="9.33" text-anchor="start" >-0.008845</text>
<rect x="1523" y="628" width="1" height="1" fill="#000" />
<rect x="1523" y="717" width="1" height="1" fill="#000" />
<rect x="7" y="719" width="1" height="3" fill="#000" />
<text x="6" y="731" fill="#000" font-size="9.25" text-anchor="start" >8 Jun 2019</text>
<rect x="71" y="719" width="1" height="3" fill="#000" />
<text x="70" y="731" fill="#000" font-size="9.25" text-anchor="start" >27 Jun 2019</text>
<rect x="135" y="719" width="1" height="3" fill="#000" />
<text x="134" y="731" fill="#000" font-size="9.25" text-anchor="start" >16 Jul 2019</text>
<rect x="199" y="719" width="1" height="3" fill="#000" />
<text x="198" y="731" fill="#000" font-size="9.25" text-anchor="start" >3 Aug 2019</text>
<rect x="263" y="719" width="1" height="3" fill="#000" />
<text x="262" y="731" fill="#000" font-size="9.25" text-anchor="start" >22 Aug 2019</text>
<rect x="327" y="719" width="1" height="3" fill="#000" />
<text x="326" y="731" fill="#000" font-size="9.25" text-anchor="start" >10 Sep 2019</text>
<rect x="391" y="719" width="1" height="3" fill="#000" />
<text x="390" y="731" fill="#000" font-size="9.25" text-anchor="start" >28 Sep 2019</text>
<rect x="455" y="719" width="1" height="3" fill="#000" />
<text x="454" y="731" fill="#000" font-size="9.25" text-anchor="start" >17 Oct 2019</text>
<rect x="519" y="719" width="1" height="3" fill="#000" />
<text x="518" y="731" fill="#000" font-size="9.25" text-anchor="start" >5 Nov 2019</text>
<rect x="583" y="719" width="1" height="3" fill="#000" />
<text x="582" y="731" fill="#000" font-size="9.25" text-anchor="start" >23 Nov 2019</text>
<rect x="647" y="719" width="1" height="3" fill="#000" />
<text x="646" y="731" fill="#000" font-size="9.25" text-anchor="start" >12 Dec 2019</text>
<rect x="711" y="719" width="1" height="3" fill="#000" />
<text x="710" y="731" fill="#000" font-size="9.25" text-anchor="start" >31 Dec 2019</text>
<rect x="775" y="719" width="1" height="3" fill="#000" />
<text x="774" y="731" fill="#000" font-size="9.25" text-anchor="start" >18 Jan 2020</text>
<rect x="839" y="719" width="1" height="3" fill="#000" />
<text x="838" y="731" fill="#000" font-size="9.25" text-anchor="start" >6 Feb 2020</text>
<rect x="903" y="719" width="1" height="3" fill="#000" />
<text x="902" y="731" fill="#000" font-size="9.25" text-anchor="start" >25 Feb 2020</text>
<rect x="967" y="719" width="1" height="3" fill="#000" />
<text x="966" y="731" fill="#000" font-size="9.25" text-anchor="start" >14 Mar 2020</text>
<rect x="1031" y="719" width="1" height="3" fill="#000" />
<text x="1030" y="731" fill="#000" font-size="9.25" text-anchor="start" >2 Apr 2020</text>
<rect x="1095" y="719" width="1" height="3" fill="#000" />
<text x="1094" y="731" fill="#000" font-size="9.25" text-anchor="start" >21 Apr 2020</text>
<rect x="1159" y="719" width="1" height="3" fill="#000" />
<text x="1158" y="731" fill="#000" font-size="9.25" text-anchor="start" >9 May 2020</text>
<rect x="0" y="739" width="1566" height="1" fill="#e3e3e3" />
<rect x="0" y="742" width="1566" height="20" fill="#f0f0f0" />
<rect x="2" y="741" width="1564" height="1" fill="#000" />
<rect x="9" y="741" width="102" height="18" fill="#fff" />
<rect x="8" y="760" width="105" height="2" fill="#fff" />
<rect x="8" y="741" width="1" height="19" fill="#000" />
<rect x="8" y="759" width="104" height="1" fill="#000" />
<rect x="111" y="741" width="1" height="19" fill="#000" />
<rect x="112" y="742" width="1" height="18" fill="#a0a0a0" />
<rect x="2" y="742" width="1" height="18" fill="#a0a0a0" />
<rect x="3" y="742" width="1" height="18" fill="#696969" />
<rect x="0" y="760" width="4" height="1" fill="#c0c0c0" />
<text x="20.2" y="755.8" fill="#000" font-size="12" text-anchor="start" >EURUSD,Daily</text>
<text x="122.6" y="755.8" fill="#7a7a7a" font-size="12" text-anchor="start" >USDCHF,Daily</text>
<text x="223.6" y="755.8" fill="#7a7a7a" font-size="12" text-anchor="start" >AUDUSD,Daily</text>
<text x="327.6" y="755.8" fill="#7a7a7a" font-size="12" text-anchor="start" >USDCAD,Daily</text>
<text x="430.6" y="755.8" fill="#7a7a7a" font-size="12" text-anchor="start" >USDCNH,Daily</text>
<text x="535.6" y="755.8" fill="#7a7a7a" font-size="12" text-anchor="start" >EURUSD,Daily</text>
<text x="639.6" y="755.8" fill="#7a7a7a" font-size="12" text-anchor="start" >GBPUSD,Daily</text>
<text x="742.6" y="755.8" fill="#7a7a7a" font-size="12" text-anchor="start" >XAUUSD,H4</text>
<text x="834.6" y="755.8" fill="#7a7a7a" font-size="12" text-anchor="start" >HK50,H1</text>
<text x="906.6" y="755.8" fill="#7a7a7a" font-size="12" text-anchor="start" >UK100,H1</text>
<text x="986.6" y="755.8" fill="#7a7a7a" font-size="12" text-anchor="start" >UK100,H1</text>
<text x="1066.6" y="755.8" fill="#7a7a7a" font-size="12" text-anchor="start" >GER30,H1</text>
<text x="1145.6" y="755.8" fill="#7a7a7a" font-size="12" text-anchor="start" >FRA40,H1</text>
<text x="1221.6" y="755.8" fill="#7a7a7a" font-size="12" text-anchor="start" >USOil,H1</text>
<text x="1293.6" y="755.8" fill="#7a7a7a" font-size="12" text-anchor="start" >USDJPY,H1</text>
<text x="1377.6" y="755.8" fill="#7a7a7a" font-size="12" text-anchor="start" >DJ30,Daily</text>
<rect x="212" y="745" width="1" height="13" fill="#808080" />
<rect x="316" y="745" width="1" height="13" fill="#808080" />
<rect x="420" y="745" width="1" height="13" fill="#808080" />
<rect x="524" y="745" width="1" height="13" fill="#808080" />
<rect x="628" y="745" width="1" height="13" fill="#808080" />
<rect x="732" y="745" width="1" height="13" fill="#808080" />
<rect x="824" y="745" width="1" height="13" fill="#808080" />
<rect x="896" y="745" width="1" height="13" fill="#808080" />
<rect x="976" y="745" width="1" height="13" fill="#808080" />
<rect x="1056" y="745" width="1" height="13" fill="#808080" />
<rect x="1136" y="745" width="1" height="13" fill="#808080" />
<rect x="1212" y="745" width="1" height="13" fill="#808080" />
<rect x="1284" y="745" width="1" height="13" fill="#808080" />
<rect x="1368" y="745" width="1" height="13" fill="#808080" />
<rect x="1448" y="745" width="1" height="13" fill="#808080" />
<path d="M1541,746.5 L1541,753.5 L1537.5,750 Z" fill="#808080"/>
<path d="M1557,746.5 L1557,753.5 L1560.5,750 Z" fill="#808080"/>
</svg>
</body></html>
